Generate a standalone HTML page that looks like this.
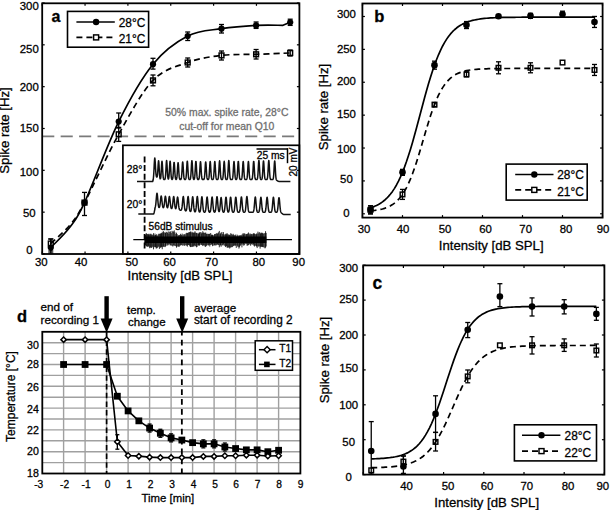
<!DOCTYPE html>
<html><head><meta charset="utf-8"><style>
html,body{margin:0;padding:0;background:#fff;width:610px;height:510px;overflow:hidden}
svg{display:block}
text{font-family:"Liberation Sans", sans-serif;stroke:currentColor;stroke-width:0.28px;paint-order:stroke}
</style></head><body>
<svg width="610" height="510" viewBox="0 0 610 510">
<rect width="610" height="510" fill="#fff"/>
<line x1="42.2" y1="136.4" x2="299.4" y2="136.4" stroke="#7a7a7a" stroke-width="1.7" stroke-linecap="butt" stroke-dasharray="12.1 6.35"/>
<text x="165.3" y="115.8" font-size="10.4" text-anchor="start" font-weight="normal" fill="#6e6e6e" color="#6e6e6e">50% max. spike rate, 28°C</text>
<text x="179.2" y="129.9" font-size="10.4" text-anchor="start" font-weight="normal" fill="#6e6e6e" color="#6e6e6e">cut-off for mean Q10</text>
<path d="M50.8,247.6 C54,244.17 64.38,234.5 70,227 C75.62,219.5 76.38,220.17 84.5,202.6 C92.62,185.03 107.28,144.67 118.7,121.6 C130.12,98.53 141.5,78.47 153,64.2 C164.5,49.93 176.28,41.92 187.7,36 C199.12,30.08 210.1,30.47 221.5,28.7 C232.9,26.93 245.85,25.97 256.1,25.4 C266.35,24.83 278.52,25.32 283,25.3 L290.2,22.3" fill="none" stroke="#000" stroke-width="1.7" stroke-linejoin="round"/>
<path d="M50.8,243.5 C54,240.42 64.38,231.82 70,225 C75.62,218.18 76.38,217.72 84.5,202.6 C92.62,187.48 107.28,154.67 118.7,134.3 C130.12,113.93 141.5,92.37 153,80.4 C164.5,68.43 176.28,66.67 187.7,62.5 C199.12,58.33 210.1,56.77 221.5,55.4 C232.9,54.03 244.65,54.7 256.1,54.3 C267.55,53.9 284.52,53.22 290.2,53" fill="none" stroke="#000" stroke-width="1.7" stroke-linejoin="round" stroke-dasharray="6 4"/>
<line x1="50.8" y1="239" x2="50.8" y2="251" stroke="#000" stroke-width="1.3" stroke-linecap="butt"/>
<line x1="48.3" y1="239" x2="53.3" y2="239" stroke="#000" stroke-width="1.3" stroke-linecap="butt"/>
<line x1="48.3" y1="251" x2="53.3" y2="251" stroke="#000" stroke-width="1.3" stroke-linecap="butt"/>
<rect x="48.4" y="241.1" width="4.8" height="4.8" fill="none" stroke="#000" stroke-width="1.45"/>
<rect x="82.1" y="200.2" width="4.8" height="4.8" fill="none" stroke="#000" stroke-width="1.45"/>
<line x1="118.7" y1="127.4" x2="118.7" y2="141.4" stroke="#000" stroke-width="1.3" stroke-linecap="butt"/>
<line x1="116.2" y1="127.4" x2="121.2" y2="127.4" stroke="#000" stroke-width="1.3" stroke-linecap="butt"/>
<line x1="116.2" y1="141.4" x2="121.2" y2="141.4" stroke="#000" stroke-width="1.3" stroke-linecap="butt"/>
<rect x="116.3" y="131.9" width="4.8" height="4.8" fill="none" stroke="#000" stroke-width="1.45"/>
<line x1="153" y1="75" x2="153" y2="85.8" stroke="#000" stroke-width="1.3" stroke-linecap="butt"/>
<line x1="150.5" y1="75" x2="155.5" y2="75" stroke="#000" stroke-width="1.3" stroke-linecap="butt"/>
<line x1="150.5" y1="85.8" x2="155.5" y2="85.8" stroke="#000" stroke-width="1.3" stroke-linecap="butt"/>
<rect x="150.6" y="78" width="4.8" height="4.8" fill="none" stroke="#000" stroke-width="1.45"/>
<line x1="187.7" y1="58" x2="187.7" y2="67" stroke="#000" stroke-width="1.3" stroke-linecap="butt"/>
<line x1="185.2" y1="58" x2="190.2" y2="58" stroke="#000" stroke-width="1.3" stroke-linecap="butt"/>
<line x1="185.2" y1="67" x2="190.2" y2="67" stroke="#000" stroke-width="1.3" stroke-linecap="butt"/>
<rect x="185.3" y="60.1" width="4.8" height="4.8" fill="none" stroke="#000" stroke-width="1.45"/>
<line x1="221.5" y1="51" x2="221.5" y2="60" stroke="#000" stroke-width="1.3" stroke-linecap="butt"/>
<line x1="219" y1="51" x2="224" y2="51" stroke="#000" stroke-width="1.3" stroke-linecap="butt"/>
<line x1="219" y1="60" x2="224" y2="60" stroke="#000" stroke-width="1.3" stroke-linecap="butt"/>
<rect x="219.1" y="53" width="4.8" height="4.8" fill="none" stroke="#000" stroke-width="1.45"/>
<line x1="256.1" y1="49.5" x2="256.1" y2="59" stroke="#000" stroke-width="1.3" stroke-linecap="butt"/>
<line x1="253.6" y1="49.5" x2="258.6" y2="49.5" stroke="#000" stroke-width="1.3" stroke-linecap="butt"/>
<line x1="253.6" y1="59" x2="258.6" y2="59" stroke="#000" stroke-width="1.3" stroke-linecap="butt"/>
<rect x="253.7" y="51.9" width="4.8" height="4.8" fill="none" stroke="#000" stroke-width="1.45"/>
<line x1="290.2" y1="50" x2="290.2" y2="56" stroke="#000" stroke-width="1.3" stroke-linecap="butt"/>
<line x1="287.7" y1="50" x2="292.7" y2="50" stroke="#000" stroke-width="1.3" stroke-linecap="butt"/>
<line x1="287.7" y1="56" x2="292.7" y2="56" stroke="#000" stroke-width="1.3" stroke-linecap="butt"/>
<rect x="287.8" y="50.6" width="4.8" height="4.8" fill="none" stroke="#000" stroke-width="1.45"/>
<line x1="50.8" y1="239" x2="50.8" y2="253" stroke="#000" stroke-width="1.3" stroke-linecap="butt"/>
<line x1="48.3" y1="239" x2="53.3" y2="239" stroke="#000" stroke-width="1.3" stroke-linecap="butt"/>
<line x1="48.3" y1="253" x2="53.3" y2="253" stroke="#000" stroke-width="1.3" stroke-linecap="butt"/>
<circle cx="50.8" cy="247.6" r="3.1" fill="#000"/>
<line x1="84.5" y1="192.4" x2="84.5" y2="215.5" stroke="#000" stroke-width="1.3" stroke-linecap="butt"/>
<line x1="82" y1="192.4" x2="87" y2="192.4" stroke="#000" stroke-width="1.3" stroke-linecap="butt"/>
<line x1="82" y1="215.5" x2="87" y2="215.5" stroke="#000" stroke-width="1.3" stroke-linecap="butt"/>
<circle cx="84.5" cy="202.6" r="3.1" fill="#000"/>
<line x1="118.7" y1="113" x2="118.7" y2="128" stroke="#000" stroke-width="1.3" stroke-linecap="butt"/>
<line x1="116.2" y1="113" x2="121.2" y2="113" stroke="#000" stroke-width="1.3" stroke-linecap="butt"/>
<line x1="116.2" y1="128" x2="121.2" y2="128" stroke="#000" stroke-width="1.3" stroke-linecap="butt"/>
<circle cx="118.7" cy="121.6" r="3.1" fill="#000"/>
<line x1="153" y1="58.3" x2="153" y2="69.1" stroke="#000" stroke-width="1.3" stroke-linecap="butt"/>
<line x1="150.5" y1="58.3" x2="155.5" y2="58.3" stroke="#000" stroke-width="1.3" stroke-linecap="butt"/>
<line x1="150.5" y1="69.1" x2="155.5" y2="69.1" stroke="#000" stroke-width="1.3" stroke-linecap="butt"/>
<circle cx="153" cy="64.2" r="3.1" fill="#000"/>
<line x1="187.7" y1="32" x2="187.7" y2="40.5" stroke="#000" stroke-width="1.3" stroke-linecap="butt"/>
<line x1="185.2" y1="32" x2="190.2" y2="32" stroke="#000" stroke-width="1.3" stroke-linecap="butt"/>
<line x1="185.2" y1="40.5" x2="190.2" y2="40.5" stroke="#000" stroke-width="1.3" stroke-linecap="butt"/>
<circle cx="187.7" cy="36" r="3.1" fill="#000"/>
<line x1="221.5" y1="24.5" x2="221.5" y2="33" stroke="#000" stroke-width="1.3" stroke-linecap="butt"/>
<line x1="219" y1="24.5" x2="224" y2="24.5" stroke="#000" stroke-width="1.3" stroke-linecap="butt"/>
<line x1="219" y1="33" x2="224" y2="33" stroke="#000" stroke-width="1.3" stroke-linecap="butt"/>
<circle cx="221.5" cy="28.7" r="3.1" fill="#000"/>
<line x1="256.1" y1="22" x2="256.1" y2="28.4" stroke="#000" stroke-width="1.3" stroke-linecap="butt"/>
<line x1="253.6" y1="22" x2="258.6" y2="22" stroke="#000" stroke-width="1.3" stroke-linecap="butt"/>
<line x1="253.6" y1="28.4" x2="258.6" y2="28.4" stroke="#000" stroke-width="1.3" stroke-linecap="butt"/>
<circle cx="256.1" cy="25.4" r="3.1" fill="#000"/>
<line x1="290.2" y1="19.2" x2="290.2" y2="25.4" stroke="#000" stroke-width="1.3" stroke-linecap="butt"/>
<line x1="287.7" y1="19.2" x2="292.7" y2="19.2" stroke="#000" stroke-width="1.3" stroke-linecap="butt"/>
<line x1="287.7" y1="25.4" x2="292.7" y2="25.4" stroke="#000" stroke-width="1.3" stroke-linecap="butt"/>
<circle cx="290.2" cy="22.3" r="3.1" fill="#000"/>
<rect x="122.9" y="145.3" width="176.5" height="108.7" fill="#fff" stroke="#000" stroke-width="1.7"/>
<line x1="144.6" y1="156.5" x2="144.6" y2="249.5" stroke="#000" stroke-width="1.8" stroke-linecap="butt" stroke-dasharray="6 2.6"/>
<text x="126.8" y="172.8" font-size="10.3" text-anchor="start" font-weight="normal" fill="#000" color="#000">28°</text>
<text x="126.8" y="208.1" font-size="10.3" text-anchor="start" font-weight="normal" fill="#000" color="#000">20°</text>
<text x="148.6" y="230" font-size="10.2" text-anchor="start" font-weight="normal" fill="#000" color="#000">56dB stimulus</text>
<line x1="256.5" y1="149" x2="288" y2="149" stroke="#000" stroke-width="1.5" stroke-linecap="butt"/>
<line x1="287.5" y1="148.3" x2="287.5" y2="163.2" stroke="#000" stroke-width="1.5" stroke-linecap="butt"/>
<text x="256.7" y="158.6" font-size="10.3" text-anchor="start" font-weight="normal" fill="#000" color="#000">25 ms</text>
<text x="297.2" y="176.5" font-size="10.0" text-anchor="start" font-weight="normal" fill="#000" color="#000" transform="rotate(-90 297.2 176.5)">20 mV</text>
<polyline points="137,181.6 137.2,181.6 137.4,181.6 137.6,181.6 137.8,181.6 138,181.6 138.2,181.6 138.4,181.6 138.6,181.6 138.8,181.6 139,181.6 139.2,181.6 139.4,181.6 139.6,181.6 139.8,181.6 140,181.6 140.2,181.6 140.4,181.6 140.6,181.6 140.8,181.6 141,181.6 141.2,181.6 141.4,181.6 141.6,181.6 141.8,181.6 142,181.6 142.2,181.6 142.4,181.6 142.6,181.6 142.8,181.6 143,181.6 143.2,181.6 143.4,181.6 143.6,181.6 143.8,181.6 144,181.6 144.2,181.6 144.4,181.6 144.6,181.6 144.8,181.6 145,181.6 145.2,181.6 145.4,181.6 145.6,181.6 145.8,181.6 146,181.6 146.2,181.6 146.4,181.6 146.6,181.6 146.8,181.6 147,181.6 147.2,181.6 147.4,181.6 147.6,181.6 147.8,181.6 148,181.6 148.2,181.6 148.4,181.6 148.6,181.6 148.8,181.6 149,181.6 149.2,181.6 149.4,181.6 149.6,181.6 149.8,181.6 150,181.6 150.2,181.6 150.4,181.6 150.6,181.6 150.8,181.6 151,181.6 151.2,181.6 151.4,181.6 151.6,181.6 151.8,181.6 152,181.6 152.2,181.6 152.4,181.59 152.6,181.54 152.8,181.19 153,180.52 153.2,179.5 153.4,178.02 153.6,175.92 153.8,173.06 154,169.44 154.2,165.04 154.4,161.55 154.6,158.94 154.8,158 155,159.02 155.2,161.71 155.4,165.3 155.6,168.94 155.8,171.99 156,174.2 156.2,175.62 156.4,176.45 156.6,176.9 156.8,177.09 157,177.01 157.2,176.54 157.4,175.46 157.6,173.58 157.8,170.82 158,167.45 158.2,164.1 158.4,161.63 158.6,160.8 158.8,161.92 159,164.69 159.2,168.32 159.4,171.97 159.6,174.97 159.8,177.08 160,178.32 160.2,178.87 160.4,178.86 160.6,178.31 160.8,177.07 161,174.98 161.2,172.01 161.4,168.42 161.6,164.86 161.8,162.19 162,161.2 162.2,162.19 162.4,164.86 162.6,168.42 162.8,172.01 163,174.99 163.2,177.09 163.4,178.38 163.6,179.07 163.8,179.39 164,179.53 164.2,179.57 164.4,179.57 164.6,179.52 164.8,179.38 165,179.05 165.2,178.33 165.4,177 165.6,174.81 165.8,171.72 166,168 166.2,164.29 166.4,161.53 166.6,160.5 166.8,161.53 167,164.29 167.2,168 167.4,171.72 167.6,174.81 167.8,176.98 168,178.29 168.2,178.92 168.4,179.04 168.6,178.7 168.8,177.78 169,176.11 169.2,173.54 169.4,170.16 169.6,166.44 169.8,163.18 170,161.26 170.2,161.26 170.4,163.18 170.6,166.44 170.8,170.16 171,173.54 171.2,176.12 171.4,177.81 171.6,178.77 171.8,179.25 172,179.44 172.2,179.44 172.4,179.27 172.6,178.82 172.8,177.92 173,176.34 173.2,173.93 173.4,170.77 173.6,167.29 173.8,164.24 174,162.44 174.2,162.44 174.4,164.24 174.6,167.29 174.8,170.77 175,173.93 175.2,176.34 175.4,177.92 175.6,178.82 175.8,179.27 176,179.44 176.2,179.45 176.4,179.28 176.6,178.84 176.8,177.95 177,176.4 177.2,174.03 177.4,170.92 177.6,167.5 177.8,164.5 178,162.74 178.2,162.74 178.4,164.5 178.6,167.5 178.8,170.92 179,174.03 179.2,176.4 179.4,177.95 179.6,178.84 179.8,179.29 180,179.48 180.2,179.56 180.4,179.58 180.6,179.56 180.8,179.48 181,179.27 181.2,178.81 181.4,177.88 181.6,176.27 181.8,173.8 182,170.57 182.2,167.01 182.4,163.88 182.6,162.04 182.8,162.04 183,163.88 183.2,167.01 183.4,170.57 183.6,173.8 183.8,176.27 184,177.88 184.2,178.81 184.4,179.27 184.6,179.48 184.8,179.56 185,179.58 185.2,179.56 185.4,179.47 185.6,179.26 185.8,178.77 186,177.81 186.2,176.12 186.4,173.54 186.6,170.16 186.8,166.44 187,163.18 187.2,161.26 187.4,161.26 187.6,163.18 187.8,166.44 188,170.16 188.2,173.54 188.4,176.12 188.6,177.81 188.8,178.77 189,179.26 189.2,179.47 189.4,179.56 189.6,179.58 189.8,179.55 190,179.47 190.2,179.25 190.4,178.76 190.6,177.77 190.8,176.04 191,173.41 191.2,169.96 191.4,166.16 191.6,162.83 191.8,160.86 192,160.86 192.2,162.83 192.4,166.16 192.6,169.96 192.8,173.41 193,176.04 193.2,177.77 193.4,178.75 193.6,179.24 193.8,179.43 194,179.43 194.2,179.25 194.4,178.78 194.6,177.83 194.8,176.15 195,173.6 195.2,170.26 195.4,166.58 195.6,163.36 195.8,161.45 196,161.45 196.2,163.36 196.4,166.58 196.6,170.26 196.8,173.6 197,176.15 197.2,177.83 197.4,178.78 197.6,179.26 197.8,179.47 198,179.56 198.2,179.58 198.4,179.56 198.6,179.48 198.8,179.27 199,178.8 199.2,177.85 199.4,176.21 199.6,173.7 199.8,170.41 200,166.79 200.2,163.62 200.4,161.75 200.6,161.75 200.8,163.62 201,166.79 201.2,170.41 201.4,173.7 201.6,176.21 201.8,177.85 202,178.8 202.2,179.27 202.4,179.48 202.6,179.56 202.8,179.59 203,179.6 203.2,179.6 203.4,179.59 203.6,179.56 203.8,179.48 204,179.27 204.2,178.81 204.4,177.88 204.6,176.27 204.8,173.8 205,170.57 205.2,167.01 205.4,163.88 205.6,162.04 205.8,162.04 206,163.88 206.2,167.01 206.4,170.57 206.6,173.8 206.8,176.27 207,177.88 207.2,178.81 207.4,179.27 207.6,179.48 207.8,179.55 208,179.57 208.2,179.53 208.4,179.4 208.6,179.08 208.8,178.4 209,177.13 209.2,175.06 209.4,172.14 209.6,168.6 209.8,165.1 210,162.47 210.2,161.5 210.4,162.47 210.6,165.1 210.8,168.6 211,172.14 211.2,175.06 211.4,177.13 211.6,178.4 211.8,179.08 212,179.4 212.2,179.53 212.4,179.57 212.6,179.57 212.8,179.53 213,179.4 213.2,179.08 213.4,178.4 213.6,177.13 213.8,175.06 214,172.14 214.2,168.6 214.4,165.1 214.6,162.47 214.8,161.5 215,162.47 215.2,165.1 215.4,168.6 215.6,172.14 215.8,175.06 216,177.13 216.2,178.4 216.4,179.08 216.6,179.4 216.8,179.53 217,179.58 217.2,179.59 217.4,179.58 217.6,179.53 217.8,179.39 218,179.06 218.2,178.35 218.4,177.04 218.6,174.89 218.8,171.85 219,168.18 219.2,164.53 219.4,161.81 219.6,160.8 219.8,161.81 220,164.53 220.2,168.18 220.4,171.85 220.6,174.89 220.8,177.04 221,178.35 221.2,179.06 221.4,179.39 221.6,179.52 221.8,179.57 222,179.57 222.2,179.53 222.4,179.39 222.6,179.07 222.8,178.39 223,177.11 223.2,175.01 223.4,172.05 223.6,168.48 223.8,164.94 224,162.29 224.2,161.3 224.4,162.29 224.6,164.94 224.8,168.48 225,172.05 225.2,175.01 225.4,177.11 225.6,178.39 225.8,179.07 226,179.39 226.2,179.53 226.4,179.57 226.6,179.57 226.8,179.52 227,179.38 227.2,179.05 227.4,178.33 227.6,177 227.8,174.81 228,171.72 228.2,168 228.4,164.29 228.6,161.53 228.8,160.5 229,161.53 229.2,164.29 229.4,168 229.6,171.72 229.8,174.81 230,177 230.2,178.33 230.4,179.05 230.6,179.38 230.8,179.52 231,179.58 231.2,179.59 231.4,179.6 231.6,179.59 231.8,179.58 232,179.53 232.2,179.4 232.4,179.08 232.6,178.4 232.8,177.13 233,175.06 233.2,172.14 233.4,168.6 233.6,165.1 233.8,162.47 234,161.5 234.2,162.47 234.4,165.1 234.6,168.6 234.8,172.14 235,175.06 235.2,177.13 235.4,178.4 235.6,179.08 235.8,179.39 236,179.52 236.2,179.54 236.4,179.47 236.6,179.26 236.8,178.78 237,177.83 237.2,176.15 237.4,173.6 237.6,170.26 237.8,166.58 238,163.36 238.2,161.45 238.4,161.45 238.6,163.36 238.8,166.58 239,170.26 239.2,173.6 239.4,176.15 239.6,177.83 239.8,178.78 240,179.26 240.2,179.48 240.4,179.56 240.6,179.59 240.8,179.59 241,179.58 241.2,179.53 241.4,179.4 241.6,179.08 241.8,178.4 242,177.13 242.2,175.06 242.4,172.14 242.6,168.6 242.8,165.1 243,162.47 243.2,161.5 243.4,162.47 243.6,165.1 243.8,168.6 244,172.14 244.2,175.06 244.4,177.13 244.6,178.4 244.8,179.08 245,179.4 245.2,179.53 245.4,179.58 245.6,179.59 245.8,179.6 246,179.59 246.2,179.58 246.4,179.53 246.6,179.4 246.8,179.08 247,178.4 247.2,177.13 247.4,175.06 247.6,172.14 247.8,168.6 248,165.1 248.2,162.47 248.4,161.5 248.6,162.47 248.8,165.1 249,168.6 249.2,172.14 249.4,175.06 249.6,177.13 249.8,178.4 250,179.08 250.2,179.4 250.4,179.53 250.6,179.58 250.8,179.59 251,179.6 251.2,179.6 251.4,179.59 251.6,179.56 251.8,179.48 252,179.26 252.2,178.78 252.4,177.83 252.6,176.15 252.8,173.6 253,170.26 253.2,166.58 253.4,163.36 253.6,161.45 253.8,161.45 254,163.36 254.2,166.58 254.4,170.26 254.6,173.6 254.8,176.15 255,177.83 255.2,178.78 255.4,179.26 255.6,179.48 255.8,179.56 256,179.59 256.2,179.6 256.4,179.6 256.6,179.59 256.8,179.56 257,179.47 257.2,179.25 257.4,178.74 257.6,177.74 257.8,175.98 258,173.31 258.2,169.8 258.4,165.95 258.6,162.56 258.8,160.57 259,160.57 259.2,162.56 259.4,165.95 259.6,169.8 259.8,173.31 260,175.98 260.2,177.74 260.4,178.74 260.6,179.25 260.8,179.47 261,179.55 261.2,179.57 261.4,179.55 261.6,179.47 261.8,179.26 262,178.76 262.2,177.79 262.4,176.08 262.6,173.47 262.8,170.06 263,166.3 263.2,163 263.4,161.06 263.6,161.06 263.8,163 264,166.3 264.2,170.06 264.4,173.47 264.6,176.08 264.8,177.79 265,178.77 265.2,179.26 265.4,179.47 265.6,179.56 265.8,179.59 266,179.6 266.2,179.6 266.4,179.59 266.6,179.58 266.8,179.52 267,179.38 267.2,179.05 267.4,178.33 267.6,177 267.8,174.81 268,171.72 268.2,168 268.4,164.29 268.6,161.53 268.8,160.5 269,161.53 269.2,164.29 269.4,168 269.6,171.72 269.8,174.81 270,177 270.2,178.33 270.4,179.05 270.6,179.38 270.8,179.52 271,179.58 271.2,179.59 271.4,179.6 271.6,179.6 271.8,179.6 272,179.6 272.2,179.6 272.4,179.59 272.6,179.56 272.8,179.47 273,179.26 273.2,178.77 273.4,177.79 273.6,176.08 273.8,173.47 274,170.06 274.2,166.3 274.4,163 274.6,161.06 274.8,161.06 275,163 275.2,166.31 275.4,170.11 275.6,173.58 275.8,176.26 276,178.07 276.2,179.15 276.4,179.76 276.6,180.11 276.8,180.32 277,180.49 277.2,180.63 277.4,180.77 277.6,180.89 277.8,181.01 278,181.12 278.2,181.21 278.4,181.29 278.6,181.35 278.8,181.39 279,181.4 279.2,181.4 279.4,181.4 279.6,181.4 279.8,181.4 280,181.4 280.2,181.4 280.4,181.4 280.6,181.4 280.8,181.4 281,181.4 281.2,181.4 281.4,181.4 281.6,181.4 281.8,181.4 282,181.4 282.2,181.4 282.4,181.4 282.6,181.4 282.8,181.4 283,181.4 283.2,181.4 283.4,181.4 283.6,181.4 283.8,181.4 284,181.4 284.2,181.4 284.4,181.4 284.6,181.4 284.8,181.4 285,181.4 285.2,181.4 285.4,181.4 285.6,181.4 285.8,181.4 286,181.4 286.2,181.4 286.4,181.4 286.6,181.4 286.8,181.4 287,181.4 287.2,181.4 287.4,181.4 287.6,181.4 287.8,181.4 288,181.4 288.2,181.4 288.4,181.4 288.6,181.4 288.8,181.4 289,181.4 289.2,181.4 289.4,181.4 289.6,181.4 289.8,181.4 290,181.4 290.2,181.4 290.4,181.4" fill="none" stroke="#111" stroke-width="1.5" stroke-linejoin="round"/>
<polyline points="138.3,214 138.5,214 138.7,214 138.9,214 139.1,214 139.3,214 139.5,214 139.7,214 139.9,214 140.1,214 140.3,214 140.5,214 140.7,214 140.9,214 141.1,214 141.3,214 141.5,214 141.7,214 141.9,214 142.1,214 142.3,214 142.5,214 142.7,214 142.9,214 143.1,214 143.3,214 143.5,214 143.7,214 143.9,214 144.1,214 144.3,214 144.5,214 144.7,214 144.9,214 145.1,214 145.3,214 145.5,214 145.7,214 145.9,214 146.1,214 146.3,214 146.5,214 146.7,214 146.9,214 147.1,214 147.3,214 147.5,214 147.7,214 147.9,214 148.1,214 148.3,214 148.5,214 148.7,214 148.9,214 149.1,214 149.3,214 149.5,214 149.7,214 149.9,214 150.1,214 150.3,214 150.5,214 150.7,214 150.9,214 151.1,214 151.3,214 151.5,214 151.7,214 151.9,214 152.1,214 152.3,214 152.5,214 152.7,214 152.9,214 153.1,214 153.3,214 153.5,214 153.7,213.83 153.9,213.37 154.1,212.7 154.3,211.87 154.5,210.95 154.7,209.99 154.9,209.02 155.1,207.44 155.3,206.92 155.5,206.08 155.7,204.8 155.9,203.06 156.1,200.9 156.3,198.51 156.5,196.2 156.7,194.36 156.9,193.33 157.1,193.33 157.3,194.36 157.5,196.2 157.7,198.51 157.9,200.9 158.1,203.06 158.3,204.8 158.5,206.06 158.7,206.88 158.9,207.34 159.1,207.51 159.3,207.42 159.5,207.08 159.7,206.42 159.9,205.4 160.1,203.99 160.3,202.24 160.5,200.3 160.7,198.43 160.9,196.94 161.1,196.11 161.3,196.11 161.5,196.95 161.7,198.45 161.9,200.33 162.1,202.27 162.3,204.03 162.5,205.45 162.7,206.48 162.9,207.15 163.1,207.52 163.3,207.64 163.5,207.54 163.7,207.19 163.9,206.54 164.1,205.53 164.3,204.13 164.5,202.39 164.7,200.46 164.9,198.6 165.1,197.12 165.3,196.3 165.5,196.32 165.7,197.16 165.9,198.68 166.1,200.57 166.3,202.52 166.5,204.29 166.7,205.71 166.9,206.74 167.1,207.39 167.3,207.7 167.5,207.72 167.7,207.44 167.9,206.82 168.1,205.83 168.3,204.43 168.5,202.69 168.7,200.76 168.9,198.9 169.1,197.41 169.3,196.6 169.5,196.62 169.7,197.48 169.9,199.01 170.1,200.93 170.3,202.9 170.5,204.69 170.7,206.14 170.9,207.2 171.1,207.9 171.3,208.31 171.5,208.48 171.7,208.45 171.9,208.2 172.1,207.68 172.3,206.82 172.5,205.56 172.7,203.91 172.9,201.96 173.1,199.94 173.3,198.15 173.5,196.92 173.7,196.5 173.9,196.98 174.1,198.27 174.3,200.12 174.5,202.19 174.7,204.19 174.9,205.9 175.1,207.19 175.3,208.06 175.5,208.53 175.7,208.65 175.9,208.41 176.1,207.8 176.3,206.78 176.5,205.32 176.7,203.5 176.9,201.47 177.1,199.51 177.3,197.95 177.5,197.1 177.7,197.13 177.9,198.05 178.1,199.67 178.3,201.69 178.5,203.79 178.7,205.68 178.9,207.22 179.1,208.35 179.3,209.11 179.5,209.59 179.7,209.87 179.9,210.03 180.1,210.12 180.3,210.18 180.5,210.21 180.7,210.23 180.9,210.22 181.1,210.15 181.3,209.98 181.5,209.64 181.7,209.03 181.9,208.06 182.1,206.65 182.3,204.8 182.5,202.62 182.7,200.35 182.9,198.35 183.1,196.97 183.3,196.5 183.5,197.04 183.7,198.48 183.9,200.54 184.1,202.87 184.3,205.11 184.5,207.02 184.7,208.5 184.9,209.53 185.1,210.2 185.3,210.6 185.5,210.81 185.7,210.89 185.9,210.86 186.1,210.7 186.3,210.34 186.5,209.7 186.7,208.67 186.9,207.19 187.1,205.24 187.3,202.95 187.5,200.56 187.7,198.46 187.9,197 188.1,196.5 188.3,197.06 188.5,198.56 188.7,200.73 188.9,203.16 189.1,205.51 189.3,207.51 189.5,209.05 189.7,210.13 189.9,210.82 190.1,211.21 190.3,211.4 190.5,211.42 190.7,211.28 190.9,210.92 191.1,210.27 191.3,209.22 191.5,207.7 191.7,205.72 191.9,203.38 192.1,200.95 192.3,198.8 192.5,197.32 192.7,196.8 192.9,197.36 193.1,198.88 193.3,201.07 193.5,203.53 193.7,205.91 193.9,207.93 194.1,209.49 194.3,210.58 194.5,211.27 194.7,211.66 194.9,211.84 195.1,211.85 195.3,211.68 195.5,211.3 195.7,210.61 195.9,209.51 196.1,207.92 196.3,205.84 196.5,203.4 196.7,200.86 196.9,198.61 197.1,197.05 197.3,196.5 197.5,197.07 197.7,198.64 197.9,200.91 198.1,203.46 198.3,205.92 198.5,208.02 198.7,209.62 198.9,210.74 199.1,211.45 199.3,211.84 199.5,212.02 199.7,212.02 199.9,211.85 200.1,211.47 200.3,210.78 200.5,209.68 200.7,208.1 200.9,206.04 201.1,203.63 201.3,201.12 201.5,198.89 201.7,197.35 201.9,196.8 202.1,197.35 202.3,198.89 202.5,201.12 202.7,203.63 202.9,206.04 203.1,208.1 203.3,209.68 203.5,210.78 203.7,211.48 203.9,211.89 204.1,212.1 204.3,212.2 204.5,212.23 204.7,212.2 204.9,212.11 205.1,211.89 205.3,211.49 205.5,210.8 205.7,209.71 205.9,208.16 206.1,206.12 206.3,203.74 206.5,201.26 206.7,199.07 206.9,197.55 207.1,197 207.3,197.55 207.5,199.07 207.7,201.26 207.9,203.74 208.1,206.12 208.3,208.16 208.5,209.71 208.7,210.8 208.9,211.49 209.1,211.89 209.3,212.1 209.5,212.18 209.7,212.18 209.9,212.1 210.1,211.89 210.3,211.49 210.5,210.8 210.7,209.71 210.9,208.16 211.1,206.12 211.3,203.74 211.5,201.26 211.7,199.07 211.9,197.55 212.1,197 212.3,197.55 212.5,199.07 212.7,201.26 212.9,203.74 213.1,206.12 213.3,208.16 213.5,209.71 213.7,210.8 213.9,211.49 214.1,211.89 214.3,212.09 214.5,212.16 214.7,212.14 214.9,212 215.1,211.7 215.3,211.15 215.5,210.25 215.7,208.89 215.9,207.03 216.1,204.72 216.3,202.17 216.5,199.71 216.7,197.74 216.9,196.64 217.1,196.64 217.3,197.74 217.5,199.71 217.7,202.17 217.9,204.72 218.1,207.02 218.3,208.88 218.5,210.22 218.7,211.07 218.9,211.52 219.1,211.62 219.3,211.39 219.5,210.79 219.7,209.78 219.9,208.28 220.1,206.32 220.3,204.02 220.5,201.62 220.7,199.5 220.9,198.03 221.1,197.5 221.3,198.03 221.5,199.5 221.7,201.62 221.9,204.02 222.1,206.32 222.3,208.29 222.5,209.8 222.7,210.85 222.9,211.51 223.1,211.9 223.3,212.1 223.5,212.17 223.7,212.14 223.9,212.01 224.1,211.72 224.3,211.19 224.5,210.31 224.7,209 224.9,207.19 225.1,204.96 225.3,202.49 225.5,200.1 225.7,198.2 225.9,197.14 226.1,197.14 226.3,198.2 226.5,200.1 226.7,202.49 226.9,204.96 227.1,207.19 227.3,209 227.5,210.31 227.7,211.18 227.9,211.7 228.1,211.97 228.3,212.05 228.5,211.97 228.7,211.7 228.9,211.18 229.1,210.31 229.3,209 229.5,207.19 229.7,204.96 229.9,202.49 230.1,200.1 230.3,198.2 230.5,197.14 230.7,197.14 230.9,198.2 231.1,200.1 231.3,202.49 231.5,204.96 231.7,207.19 231.9,209 232.1,210.31 232.3,211.19 232.5,211.72 232.7,212.02 232.9,212.17 233.1,212.23 233.3,212.23 233.5,212.17 233.7,212.02 233.9,211.72 234.1,211.19 234.3,210.31 234.5,209 234.7,207.19 234.9,204.96 235.1,202.49 235.3,200.1 235.5,198.2 235.7,197.14 235.9,197.14 236.1,198.2 236.3,200.1 236.5,202.49 236.7,204.96 236.9,207.19 237.1,209 237.3,210.31 237.5,211.19 237.7,211.72 237.9,212.02 238.1,212.17 238.3,212.24 238.5,212.27 238.7,212.27 238.9,212.24 239.1,212.17 239.3,212.02 239.5,211.71 239.7,211.17 239.9,210.29 240.1,208.95 240.3,207.13 240.5,204.87 240.7,202.36 240.9,199.94 241.1,198.02 241.3,196.94 241.5,196.94 241.7,198.02 241.9,199.94 242.1,202.36 242.3,204.87 242.5,207.13 242.7,208.95 242.9,210.29 243.1,211.17 243.3,211.71 243.5,212.02 243.7,212.17 243.9,212.24 244.1,212.27 244.3,212.26 244.5,212.21 244.7,212.1 244.9,211.88 245.1,211.46 245.3,210.75 245.5,209.63 245.7,208.02 245.9,205.92 246.1,203.46 246.3,200.9 246.5,198.63 246.7,197.06 246.9,196.5 247.1,197.06 247.3,198.63 247.5,200.9 247.7,203.46 247.9,205.92 248.1,208.02 248.3,209.63 248.5,210.75 248.7,211.46 248.9,211.88 249.1,212.1 249.3,212.21 249.5,212.27 249.7,212.29 249.9,212.3 250.1,212.3 250.3,212.3 250.5,212.3 250.7,212.3 250.9,212.3 251.1,212.3 251.3,212.3 251.5,212.3 251.7,212.3 251.9,212.3 252.1,212.3 252.3,212.3 252.5,212.29 252.7,212.27 252.9,212.22 253.1,212.11 253.3,211.89 253.5,211.49 253.7,210.8 253.9,209.71 254.1,208.16 254.3,206.12 254.5,203.74 254.7,201.26 254.9,199.07 255.1,197.55 255.3,197 255.5,197.55 255.7,199.07 255.9,201.26 256.1,203.74 256.3,206.12 256.5,208.16 256.7,209.71 256.9,210.8 257.1,211.49 257.3,211.89 257.5,212.11 257.7,212.22 257.9,212.26 258.1,212.28 258.3,212.26 258.5,212.22 258.7,212.11 258.9,211.9 259.1,211.5 259.3,210.82 259.5,209.75 259.7,208.21 259.9,206.2 260.1,203.85 260.3,201.41 260.5,199.24 260.7,197.74 260.9,197.2 261.1,197.74 261.3,199.24 261.5,201.41 261.7,203.85 261.9,206.2 262.1,208.21 262.3,209.75 262.5,210.82 262.7,211.5 262.9,211.9 263.1,212.11 263.3,212.22 263.5,212.27 263.7,212.29 263.9,212.29 264.1,212.29 264.3,212.29 264.5,212.27 264.7,212.22 264.9,212.11 265.1,211.9 265.3,211.5 265.5,210.82 265.7,209.75 265.9,208.21 266.1,206.2 266.3,203.85 266.5,201.41 266.7,199.24 266.9,197.74 267.1,197.2 267.3,197.74 267.5,199.24 267.7,201.41 267.9,203.85 268.1,206.2 268.3,208.21 268.5,209.75 268.7,210.82 268.9,211.5 269.1,211.9 269.3,212.11 269.5,212.22 269.7,212.27 269.9,212.29 270.1,212.29 270.3,212.3 270.5,212.29 270.7,212.28 270.9,212.25 271.1,212.18 271.3,212.02 271.5,211.73 271.7,211.2 271.9,210.34 272.1,209.04 272.3,207.26 272.5,205.06 272.7,202.62 272.9,200.26 273.1,198.38 273.3,197.34 273.5,197.34 273.7,198.38 273.9,200.26 274.1,202.62 274.3,205.06 274.5,207.26 274.7,209.04 274.9,210.34 275.1,211.2 275.3,211.73 275.5,212.02 275.7,212.17 275.9,212.25 276.1,212.27 276.3,212.27 276.5,212.25 276.7,212.18 276.9,212.03 277.1,211.74 277.3,211.22 277.5,210.38 277.7,209.1 277.9,207.36 278.1,205.2 278.3,202.81 278.5,200.5 278.7,198.66 278.9,197.63 279.1,197.63 279.3,198.66 279.5,200.5 279.7,202.81 279.9,205.2 280.1,207.37 280.3,209.14 280.5,210.47 280.7,211.4 280.9,212.02 281.1,212.44 281.3,212.72 281.5,212.95 281.7,213.13 281.9,213.31 282.1,213.48 282.3,213.64 282.5,213.8 282.7,213.95 282.9,214.09 283.1,214.22 283.3,214.32 283.5,214.41 283.7,214.46 283.9,214.5 284.1,214.5 284.3,214.5 284.5,214.5 284.7,214.5 284.9,214.5 285.1,214.5 285.3,214.5 285.5,214.5 285.7,214.5 285.9,214.5 286.1,214.5 286.3,214.5 286.5,214.5 286.7,214.5 286.9,214.5 287.1,214.5 287.3,214.5 287.5,214.5 287.7,214.5 287.9,214.5 288.1,214.5 288.3,214.5 288.5,214.5 288.7,214.5 288.9,214.5 289.1,214.5 289.3,214.5 289.5,214.5 289.7,214.5 289.9,214.5 290.1,214.5 290.3,214.5 290.5,214.5 290.7,214.5" fill="none" stroke="#111" stroke-width="1.5" stroke-linejoin="round"/>
<line x1="133.3" y1="239.7" x2="292" y2="239.7" stroke="#000" stroke-width="1.3" stroke-linecap="butt"/>
<rect x="144.8" y="236.5" width="121.5" height="6.5" fill="#000"/>
<path d="M144.8,234.88 V245.3 M145.49,234.94 V245.1 M146.14,233.21 V246.12 M146.64,233.56 V246.34 M147.27,234.2 V246.55 M147.79,234.18 V246.77 M148.5,234.39 V245.88 M148.97,233.7 V246.91 M149.69,234.5 V248.25 M150.25,234.25 V247.6 M150.83,233.65 V247.22 M151.35,234.48 V247.95 M152.05,234.6 V247.4 M152.76,234.84 V246.7 M153.51,233.2 V249.33 M154.33,235.29 V246.9 M154.99,233.52 V247.38 M155.5,234.96 V247.03 M156.15,235.27 V248.38 M156.73,234.13 V248.46 M157.24,235.91 V247.96 M157.96,235.12 V247.21 M158.66,233.79 V246.63 M159.42,233.88 V248.9 M160.23,233.45 V247.64 M160.71,233.85 V247.55 M161.18,233.25 V247.32 M161.64,233.11 V246.88 M162.25,231.75 V249.22 M162.91,233.18 V247.03 M163.48,231.17 V246.55 M164.16,232.14 V246.89 M165.05,232.93 V247.13 M165.58,232.82 V246.43 M166.13,231.8 V245.72 M166.95,232 V243.88 M167.41,232.9 V245.52 M168.29,231.38 V244.43 M168.91,233.8 V245.28 M169.64,231.68 V244.22 M170.45,231.38 V245.42 M171.23,233.07 V245.39 M172.04,230.83 V245.89 M172.82,231.61 V246.51 M173.63,231.4 V245.51 M174.24,230.34 V245.49 M174.98,232.36 V245.94 M175.8,234.09 V246.19 M176.52,232.7 V247.7 M177.13,234.03 V246.75 M177.99,235.38 V246.12 M178.64,235.37 V246.78 M179.3,235.06 V246.68 M180,234.85 V245.58 M180.58,233.82 V245.39 M181.44,234.87 V244.97 M182.2,233.6 V245.47 M182.96,235.26 V245.68 M183.84,234.34 V244.86 M184.32,234.26 V245.92 M185.17,234.42 V245.41 M186.02,233.34 V245.14 M186.69,232.84 V245.75 M187.37,232.9 V246.64 M187.83,233.16 V244.97 M188.56,232.39 V245.03 M189.45,232.16 V245.56 M190.02,231.92 V246.54 M190.59,231.46 V247.1 M191.08,232.62 V246.83 M191.95,231.72 V247.06 M192.43,232.5 V246.73 M193.3,232.47 V245.95 M193.8,232.9 V246.86 M194.38,232.47 V245.54 M194.99,231.22 V245.75 M195.69,232.52 V246.31 M196.51,232.97 V247.29 M197.18,232.93 V246.77 M197.95,234.2 V244.95 M198.46,233.64 V245.66 M198.95,232.69 V244.94 M199.51,232.61 V245.69 M200.08,232.21 V244.61 M200.96,232.09 V244.81 M201.62,233.4 V244.8 M202.19,232.85 V245.13 M202.78,231.21 V246.06 M203.53,232.47 V245.35 M204.42,232.8 V245.63 M205.24,232.8 V246.93 M205.76,232.57 V246.55 M206.58,233.81 V245.85 M207.13,233.9 V244.76 M207.96,233.73 V245.29 M208.63,233.98 V245.43 M209.32,234.03 V244.81 M209.8,233.68 V246.51 M210.69,233.01 V245.01 M211.49,234.65 V244.6 M212.05,235.06 V243.96 M212.53,234.72 V246.17 M213.11,235.32 V244.69 M213.96,235.24 V245.97 M214.62,234.04 V244.97 M215.16,234.02 V244.88 M215.85,233.73 V245.69 M216.7,233.38 V244.92 M217.16,232.93 V244.45 M217.67,234.02 V244.59 M218.46,232.37 V245.09 M219.32,230.89 V247.3 M220.03,234.33 V245.53 M220.53,233.41 V245.17 M221.1,232.57 V246.78 M221.94,231.99 V245.51 M222.64,234.13 V245.2 M223.43,232.11 V244.44 M223.94,234.43 V245.48 M224.83,234.57 V245.82 M225.45,234.24 V247.06 M226.13,233.46 V245.84 M226.64,234.32 V246.42 M227.2,233.23 V247.86 M227.83,234.42 V247.4 M228.31,234.45 V247.63 M229.05,235.03 V247.26 M229.68,234.9 V248.52 M230.14,234.44 V247.46 M230.85,233.09 V247.61 M231.68,234.07 V247.04 M232.37,234.77 V247.11 M233.16,233.8 V246.19 M233.72,234.84 V245.91 M234.28,235.22 V245.06 M234.97,235.72 V246.01 M235.42,234.62 V245.47 M236.27,236.15 V247.92 M237.04,234.55 V245.24 M237.68,235.5 V246.32 M238.14,235.9 V247.07 M238.95,235.39 V248.61 M239.54,235.71 V247.32 M240.12,235.19 V246.03 M240.76,235.44 V245.14 M241.31,235.47 V244.34 M241.93,234.59 V247.39 M242.8,233.48 V244.59 M243.27,234.71 V244.2 M243.79,233.36 V245.71 M244.3,233.4 V245.1 M245.12,233.76 V243.74 M245.98,234.43 V244.18 M246.62,234.04 V243.57 M247.1,233.94 V245.85 M247.7,233.52 V245.32 M248.47,232.48 V245.16 M249.33,234.33 V244.34 M250,233.29 V244.43 M250.64,234.26 V245.74 M251.42,233.93 V244.11 M252.02,234.61 V244.51 M252.81,233.89 V244.64 M253.4,233.36 V244.29 M253.89,233.44 V245.71 M254.45,233.51 V246.53 M255.28,233.98 V245.46 M255.98,234.78 V246.06 M256.54,233.59 V246.58 M257.17,233.62 V248.08 M257.91,231.62 V246.4 M258.74,233.35 V246.54 M259.28,232.04 V246.35 M260.12,232.91 V248.63 M260.62,233.73 V246.66 M261.13,232.54 V246.92 M261.67,233.08 V246.66 M262.26,232.75 V246.82 M262.76,233.32 V247.07 M263.28,233.61 V247.14 M264.16,233.34 V247.59 M265,233 V248.37 M265.54,231.19 V247.64 M266.17,232.9 V246.49" stroke="#000" stroke-width="0.8" fill="none"/>
<rect x="42.2" y="3.3" width="257.2" height="250.7" fill="none" stroke="#000" stroke-width="1.8"/>
<line x1="42.2" y1="254" x2="42.2" y2="251.5" stroke="#000" stroke-width="1.2" stroke-linecap="butt"/>
<line x1="42.2" y1="3.3" x2="42.2" y2="5.8" stroke="#000" stroke-width="1.2" stroke-linecap="butt"/>
<line x1="85.05" y1="254" x2="85.05" y2="251.5" stroke="#000" stroke-width="1.2" stroke-linecap="butt"/>
<line x1="85.05" y1="3.3" x2="85.05" y2="5.8" stroke="#000" stroke-width="1.2" stroke-linecap="butt"/>
<line x1="127.9" y1="254" x2="127.9" y2="251.5" stroke="#000" stroke-width="1.2" stroke-linecap="butt"/>
<line x1="127.9" y1="3.3" x2="127.9" y2="5.8" stroke="#000" stroke-width="1.2" stroke-linecap="butt"/>
<line x1="170.75" y1="254" x2="170.75" y2="251.5" stroke="#000" stroke-width="1.2" stroke-linecap="butt"/>
<line x1="170.75" y1="3.3" x2="170.75" y2="5.8" stroke="#000" stroke-width="1.2" stroke-linecap="butt"/>
<line x1="213.6" y1="254" x2="213.6" y2="251.5" stroke="#000" stroke-width="1.2" stroke-linecap="butt"/>
<line x1="213.6" y1="3.3" x2="213.6" y2="5.8" stroke="#000" stroke-width="1.2" stroke-linecap="butt"/>
<line x1="256.45" y1="254" x2="256.45" y2="251.5" stroke="#000" stroke-width="1.2" stroke-linecap="butt"/>
<line x1="256.45" y1="3.3" x2="256.45" y2="5.8" stroke="#000" stroke-width="1.2" stroke-linecap="butt"/>
<line x1="299.3" y1="254" x2="299.3" y2="251.5" stroke="#000" stroke-width="1.2" stroke-linecap="butt"/>
<line x1="299.3" y1="3.3" x2="299.3" y2="5.8" stroke="#000" stroke-width="1.2" stroke-linecap="butt"/>
<line x1="42.2" y1="254" x2="44.7" y2="254" stroke="#000" stroke-width="1.2" stroke-linecap="butt"/>
<line x1="299.4" y1="254" x2="296.9" y2="254" stroke="#000" stroke-width="1.2" stroke-linecap="butt"/>
<line x1="42.2" y1="212.16" x2="44.7" y2="212.16" stroke="#000" stroke-width="1.2" stroke-linecap="butt"/>
<line x1="299.4" y1="212.16" x2="296.9" y2="212.16" stroke="#000" stroke-width="1.2" stroke-linecap="butt"/>
<line x1="42.2" y1="170.33" x2="44.7" y2="170.33" stroke="#000" stroke-width="1.2" stroke-linecap="butt"/>
<line x1="299.4" y1="170.33" x2="296.9" y2="170.33" stroke="#000" stroke-width="1.2" stroke-linecap="butt"/>
<line x1="42.2" y1="128.5" x2="44.7" y2="128.5" stroke="#000" stroke-width="1.2" stroke-linecap="butt"/>
<line x1="299.4" y1="128.5" x2="296.9" y2="128.5" stroke="#000" stroke-width="1.2" stroke-linecap="butt"/>
<line x1="42.2" y1="86.66" x2="44.7" y2="86.66" stroke="#000" stroke-width="1.2" stroke-linecap="butt"/>
<line x1="299.4" y1="86.66" x2="296.9" y2="86.66" stroke="#000" stroke-width="1.2" stroke-linecap="butt"/>
<line x1="42.2" y1="44.82" x2="44.7" y2="44.82" stroke="#000" stroke-width="1.2" stroke-linecap="butt"/>
<line x1="299.4" y1="44.82" x2="296.9" y2="44.82" stroke="#000" stroke-width="1.2" stroke-linecap="butt"/>
<line x1="42.2" y1="2.99" x2="44.7" y2="2.99" stroke="#000" stroke-width="1.2" stroke-linecap="butt"/>
<line x1="299.4" y1="2.99" x2="296.9" y2="2.99" stroke="#000" stroke-width="1.2" stroke-linecap="butt"/>
<text x="41.3" y="266.3" font-size="11.4" text-anchor="middle" font-weight="normal" fill="#000" color="#000">30</text>
<text x="81" y="266.3" font-size="11.4" text-anchor="middle" font-weight="normal" fill="#000" color="#000">40</text>
<text x="131.8" y="266.3" font-size="11.4" text-anchor="middle" font-weight="normal" fill="#000" color="#000">50</text>
<text x="169.5" y="266.3" font-size="11.4" text-anchor="middle" font-weight="normal" fill="#000" color="#000">60</text>
<text x="211.7" y="266.3" font-size="11.4" text-anchor="middle" font-weight="normal" fill="#000" color="#000">70</text>
<text x="258.8" y="266.3" font-size="11.4" text-anchor="middle" font-weight="normal" fill="#000" color="#000">80</text>
<text x="298.7" y="266.3" font-size="11.4" text-anchor="middle" font-weight="normal" fill="#000" color="#000">90</text>
<text x="29.3" y="9.5" font-size="11.4" text-anchor="middle" font-weight="normal" fill="#000" color="#000">300</text>
<text x="29.3" y="52.6" font-size="11.4" text-anchor="middle" font-weight="normal" fill="#000" color="#000">250</text>
<text x="29.3" y="90.5" font-size="11.4" text-anchor="middle" font-weight="normal" fill="#000" color="#000">200</text>
<text x="29.3" y="132.2" font-size="11.4" text-anchor="middle" font-weight="normal" fill="#000" color="#000">150</text>
<text x="29.3" y="175.7" font-size="11.4" text-anchor="middle" font-weight="normal" fill="#000" color="#000">100</text>
<text x="29.3" y="216.7" font-size="11.4" text-anchor="middle" font-weight="normal" fill="#000" color="#000">50</text>
<text x="29.3" y="254.4" font-size="11.4" text-anchor="middle" font-weight="normal" fill="#000" color="#000">0</text>
<text x="51.4" y="21.5" font-size="16" text-anchor="start" font-weight="bold" fill="#000" color="#000">a</text>
<text x="180" y="279.8" font-size="13.2" text-anchor="middle" font-weight="normal" fill="#000" color="#000">Intensity [dB SPL]</text>
<text x="9.2" y="130.5" font-size="13.2" text-anchor="middle" font-weight="normal" fill="#000" color="#000" transform="rotate(-90 9.2 130.5)">Spike rate [Hz]</text>
<rect x="67.5" y="11.4" width="81.1" height="35.8" fill="#fff" stroke="#000" stroke-width="1.6"/>
<line x1="76.4" y1="22" x2="114.8" y2="22" stroke="#000" stroke-width="1.6" stroke-linecap="butt"/>
<circle cx="96.1" cy="22" r="3.2" fill="#000"/>
<line x1="76.4" y1="37.4" x2="114.8" y2="37.4" stroke="#000" stroke-width="1.6" stroke-linecap="butt" stroke-dasharray="6 4"/>
<rect x="93.6" y="34.9" width="5" height="5" fill="#fff" stroke="#000" stroke-width="1.45"/>
<text x="118.7" y="27.1" font-size="11.9" text-anchor="start" font-weight="normal" fill="#000" color="#000">28°C</text>
<text x="118.7" y="43.2" font-size="11.9" text-anchor="start" font-weight="normal" fill="#000" color="#000">21°C</text>
<polyline points="370.5,207.77 372.5,207.11 374.5,206.34 376.5,205.45 378.5,204.42 380.5,203.23 382.5,201.86 384.5,200.28 386.5,198.48 388.5,196.41 390.5,194.06 392.5,191.39 394.5,188.37 396.5,184.97 398.5,181.17 400.5,176.94 402.5,172.27 404.5,167.15 406.5,161.58 408.5,155.58 410.5,149.17 412.5,142.4 414.5,135.32 416.5,128 418.5,120.53 420.5,112.98 422.5,105.44 424.5,98.02 426.5,90.79 428.5,83.83 430.5,77.19 432.5,70.94 434.5,65.11 436.5,59.72 438.5,54.78 440.5,50.29 442.5,46.24 444.5,42.6 446.5,39.36 448.5,36.48 450.5,33.94 452.5,31.71 454.5,29.75 456.5,28.04 458.5,26.55 460.5,25.25 462.5,24.13 464.5,23.15 466.5,22.31 468.5,21.59 470.5,20.96 472.5,20.42 474.5,19.96 476.5,19.56 478.5,19.22 480.5,18.92 482.5,18.67 484.5,18.45 486.5,18.26 488.5,18.1 490.5,17.97 492.5,17.85 494.5,17.75 496.5,17.66 498.5,17.59 500.5,17.53 502.5,17.47 504.5,17.42 506.5,17.39 508.5,17.35 510.5,17.32 512.5,17.3 514.5,17.28 516.5,17.26 518.5,17.24 520.5,17.23 522.5,17.22 524.5,17.21 526.5,17.2 528.5,17.19 530.5,17.18 532.5,17.18 534.5,17.17 536.5,17.17 538.5,17.17 540.5,17.16 542.5,17.16 544.5,17.16 546.5,17.16 548.5,17.16 550.5,17.16 552.5,17.15 554.5,17.15 556.5,17.15 558.5,17.15 560.5,17.15 562.5,17.15 564.5,17.15 566.5,17.15 568.5,17.15 570.5,17.15 572.5,17.15 574.5,17.15 576.5,17.15 578.5,17.15 580.5,17.15 582.5,17.15 584.5,17.15 586.5,17.15 588.5,17.15 590.5,17.15 592.5,17.15 594.5,17.15" fill="none" stroke="#000" stroke-width="1.7" stroke-linejoin="round"/>
<polyline points="370.5,210.91 372.5,210.71 374.5,210.48 376.5,210.2 378.5,209.86 380.5,209.45 382.5,208.96 384.5,208.37 386.5,207.66 388.5,206.81 390.5,205.8 392.5,204.59 394.5,203.16 396.5,201.46 398.5,199.46 400.5,197.12 402.5,194.39 404.5,191.23 406.5,187.62 408.5,183.52 410.5,178.91 412.5,173.8 414.5,168.22 416.5,162.2 418.5,155.81 420.5,149.15 422.5,142.33 424.5,135.47 426.5,128.7 428.5,122.13 430.5,115.86 432.5,109.99 434.5,104.58 436.5,99.65 438.5,95.22 440.5,91.3 442.5,87.86 444.5,84.86 446.5,82.27 448.5,80.06 450.5,78.17 452.5,76.57 454.5,75.22 456.5,74.09 458.5,73.14 460.5,72.34 462.5,71.68 464.5,71.13 466.5,70.67 468.5,70.28 470.5,69.97 472.5,69.71 474.5,69.49 476.5,69.31 478.5,69.16 480.5,69.04 482.5,68.93 484.5,68.85 486.5,68.78 488.5,68.72 490.5,68.67 492.5,68.63 494.5,68.6 496.5,68.58 498.5,68.55 500.5,68.54 502.5,68.52 504.5,68.51 506.5,68.5 508.5,68.49 510.5,68.48 512.5,68.48 514.5,68.47 516.5,68.47 518.5,68.46 520.5,68.46 522.5,68.46 524.5,68.46 526.5,68.46 528.5,68.45 530.5,68.45 532.5,68.45 534.5,68.45 536.5,68.45 538.5,68.45 540.5,68.45 542.5,68.45 544.5,68.45 546.5,68.45 548.5,68.45 550.5,68.45 552.5,68.45 554.5,68.45 556.5,68.45 558.5,68.45 560.5,68.45 562.5,68.45 564.5,68.45 566.5,68.45 568.5,68.45 570.5,68.45 572.5,68.45 574.5,68.45 576.5,68.45 578.5,68.45 580.5,68.45 582.5,68.45 584.5,68.45 586.5,68.45 588.5,68.45 590.5,68.45 592.5,68.45 594.5,68.45" fill="none" stroke="#000" stroke-width="1.7" stroke-linejoin="round" stroke-dasharray="6 4"/>
<line x1="370.5" y1="205.85" x2="370.5" y2="213.85" stroke="#000" stroke-width="1.3" stroke-linecap="butt"/>
<line x1="368" y1="205.85" x2="373" y2="205.85" stroke="#000" stroke-width="1.3" stroke-linecap="butt"/>
<line x1="368" y1="213.85" x2="373" y2="213.85" stroke="#000" stroke-width="1.3" stroke-linecap="butt"/>
<rect x="368.2" y="207.55" width="4.6" height="4.6" fill="none" stroke="#000" stroke-width="1.45"/>
<line x1="402.5" y1="189.4" x2="402.5" y2="199.4" stroke="#000" stroke-width="1.3" stroke-linecap="butt"/>
<line x1="400" y1="189.4" x2="405" y2="189.4" stroke="#000" stroke-width="1.3" stroke-linecap="butt"/>
<line x1="400" y1="199.4" x2="405" y2="199.4" stroke="#000" stroke-width="1.3" stroke-linecap="butt"/>
<rect x="400.2" y="192.1" width="4.6" height="4.6" fill="none" stroke="#000" stroke-width="1.45"/>
<line x1="434.5" y1="102.62" x2="434.5" y2="106.62" stroke="#000" stroke-width="1.3" stroke-linecap="butt"/>
<line x1="432" y1="102.62" x2="437" y2="102.62" stroke="#000" stroke-width="1.3" stroke-linecap="butt"/>
<line x1="432" y1="106.62" x2="437" y2="106.62" stroke="#000" stroke-width="1.3" stroke-linecap="butt"/>
<rect x="432.2" y="102.32" width="4.6" height="4.6" fill="none" stroke="#000" stroke-width="1.45"/>
<line x1="466.5" y1="71.87" x2="466.5" y2="76.87" stroke="#000" stroke-width="1.3" stroke-linecap="butt"/>
<line x1="464" y1="71.87" x2="469" y2="71.87" stroke="#000" stroke-width="1.3" stroke-linecap="butt"/>
<line x1="464" y1="76.87" x2="469" y2="76.87" stroke="#000" stroke-width="1.3" stroke-linecap="butt"/>
<rect x="464.2" y="72.07" width="4.6" height="4.6" fill="none" stroke="#000" stroke-width="1.45"/>
<line x1="498.5" y1="61.79" x2="498.5" y2="73.79" stroke="#000" stroke-width="1.3" stroke-linecap="butt"/>
<line x1="496" y1="61.79" x2="501" y2="61.79" stroke="#000" stroke-width="1.3" stroke-linecap="butt"/>
<line x1="496" y1="73.79" x2="501" y2="73.79" stroke="#000" stroke-width="1.3" stroke-linecap="butt"/>
<rect x="496.2" y="65.49" width="4.6" height="4.6" fill="none" stroke="#000" stroke-width="1.45"/>
<line x1="530.5" y1="62.79" x2="530.5" y2="72.79" stroke="#000" stroke-width="1.3" stroke-linecap="butt"/>
<line x1="528" y1="62.79" x2="533" y2="62.79" stroke="#000" stroke-width="1.3" stroke-linecap="butt"/>
<line x1="528" y1="72.79" x2="533" y2="72.79" stroke="#000" stroke-width="1.3" stroke-linecap="butt"/>
<rect x="528.2" y="65.49" width="4.6" height="4.6" fill="none" stroke="#000" stroke-width="1.45"/>
<rect x="560.2" y="60.23" width="4.6" height="4.6" fill="none" stroke="#000" stroke-width="1.45"/>
<line x1="594.5" y1="64.46" x2="594.5" y2="75.46" stroke="#000" stroke-width="1.3" stroke-linecap="butt"/>
<line x1="592" y1="64.46" x2="597" y2="64.46" stroke="#000" stroke-width="1.3" stroke-linecap="butt"/>
<line x1="592" y1="75.46" x2="597" y2="75.46" stroke="#000" stroke-width="1.3" stroke-linecap="butt"/>
<rect x="592.2" y="67.66" width="4.6" height="4.6" fill="none" stroke="#000" stroke-width="1.45"/>
<line x1="370.5" y1="205.85" x2="370.5" y2="213.85" stroke="#000" stroke-width="1.3" stroke-linecap="butt"/>
<line x1="368" y1="205.85" x2="373" y2="205.85" stroke="#000" stroke-width="1.3" stroke-linecap="butt"/>
<line x1="368" y1="213.85" x2="373" y2="213.85" stroke="#000" stroke-width="1.3" stroke-linecap="butt"/>
<circle cx="370.5" cy="209.85" r="3.3" fill="#000"/>
<line x1="402.5" y1="169.36" x2="402.5" y2="175.36" stroke="#000" stroke-width="1.3" stroke-linecap="butt"/>
<line x1="400" y1="169.36" x2="405" y2="169.36" stroke="#000" stroke-width="1.3" stroke-linecap="butt"/>
<line x1="400" y1="175.36" x2="405" y2="175.36" stroke="#000" stroke-width="1.3" stroke-linecap="butt"/>
<circle cx="402.5" cy="172.36" r="3.3" fill="#000"/>
<line x1="434.5" y1="61.16" x2="434.5" y2="69.16" stroke="#000" stroke-width="1.3" stroke-linecap="butt"/>
<line x1="432" y1="61.16" x2="437" y2="61.16" stroke="#000" stroke-width="1.3" stroke-linecap="butt"/>
<line x1="432" y1="69.16" x2="437" y2="69.16" stroke="#000" stroke-width="1.3" stroke-linecap="butt"/>
<circle cx="434.5" cy="65.16" r="3.3" fill="#000"/>
<line x1="466.5" y1="21.54" x2="466.5" y2="28.54" stroke="#000" stroke-width="1.3" stroke-linecap="butt"/>
<line x1="464" y1="21.54" x2="469" y2="21.54" stroke="#000" stroke-width="1.3" stroke-linecap="butt"/>
<line x1="464" y1="28.54" x2="469" y2="28.54" stroke="#000" stroke-width="1.3" stroke-linecap="butt"/>
<circle cx="466.5" cy="25.04" r="3.3" fill="#000"/>
<circle cx="498.5" cy="16.23" r="3.3" fill="#000"/>
<line x1="530.5" y1="13.33" x2="530.5" y2="18.33" stroke="#000" stroke-width="1.3" stroke-linecap="butt"/>
<line x1="528" y1="13.33" x2="533" y2="13.33" stroke="#000" stroke-width="1.3" stroke-linecap="butt"/>
<line x1="528" y1="18.33" x2="533" y2="18.33" stroke="#000" stroke-width="1.3" stroke-linecap="butt"/>
<circle cx="530.5" cy="15.83" r="3.3" fill="#000"/>
<line x1="562.5" y1="11.19" x2="562.5" y2="17.19" stroke="#000" stroke-width="1.3" stroke-linecap="butt"/>
<line x1="560" y1="11.19" x2="565" y2="11.19" stroke="#000" stroke-width="1.3" stroke-linecap="butt"/>
<line x1="560" y1="17.19" x2="565" y2="17.19" stroke="#000" stroke-width="1.3" stroke-linecap="butt"/>
<circle cx="562.5" cy="14.19" r="3.3" fill="#000"/>
<line x1="594.5" y1="16.45" x2="594.5" y2="27.45" stroke="#000" stroke-width="1.3" stroke-linecap="butt"/>
<line x1="592" y1="16.45" x2="597" y2="16.45" stroke="#000" stroke-width="1.3" stroke-linecap="butt"/>
<line x1="592" y1="27.45" x2="597" y2="27.45" stroke="#000" stroke-width="1.3" stroke-linecap="butt"/>
<circle cx="594.5" cy="21.95" r="3.3" fill="#000"/>
<rect x="362.4" y="3.5" width="240.2" height="214.1" fill="none" stroke="#000" stroke-width="1.8"/>
<line x1="362.5" y1="217.6" x2="362.5" y2="215.1" stroke="#000" stroke-width="1.2" stroke-linecap="butt"/>
<line x1="362.5" y1="3.5" x2="362.5" y2="6" stroke="#000" stroke-width="1.2" stroke-linecap="butt"/>
<line x1="402.5" y1="217.6" x2="402.5" y2="215.1" stroke="#000" stroke-width="1.2" stroke-linecap="butt"/>
<line x1="402.5" y1="3.5" x2="402.5" y2="6" stroke="#000" stroke-width="1.2" stroke-linecap="butt"/>
<line x1="442.5" y1="217.6" x2="442.5" y2="215.1" stroke="#000" stroke-width="1.2" stroke-linecap="butt"/>
<line x1="442.5" y1="3.5" x2="442.5" y2="6" stroke="#000" stroke-width="1.2" stroke-linecap="butt"/>
<line x1="482.5" y1="217.6" x2="482.5" y2="215.1" stroke="#000" stroke-width="1.2" stroke-linecap="butt"/>
<line x1="482.5" y1="3.5" x2="482.5" y2="6" stroke="#000" stroke-width="1.2" stroke-linecap="butt"/>
<line x1="522.5" y1="217.6" x2="522.5" y2="215.1" stroke="#000" stroke-width="1.2" stroke-linecap="butt"/>
<line x1="522.5" y1="3.5" x2="522.5" y2="6" stroke="#000" stroke-width="1.2" stroke-linecap="butt"/>
<line x1="562.5" y1="217.6" x2="562.5" y2="215.1" stroke="#000" stroke-width="1.2" stroke-linecap="butt"/>
<line x1="562.5" y1="3.5" x2="562.5" y2="6" stroke="#000" stroke-width="1.2" stroke-linecap="butt"/>
<line x1="602.5" y1="217.6" x2="602.5" y2="215.1" stroke="#000" stroke-width="1.2" stroke-linecap="butt"/>
<line x1="602.5" y1="3.5" x2="602.5" y2="6" stroke="#000" stroke-width="1.2" stroke-linecap="butt"/>
<line x1="362.4" y1="213.8" x2="364.9" y2="213.8" stroke="#000" stroke-width="1.2" stroke-linecap="butt"/>
<line x1="602.6" y1="213.8" x2="600.1" y2="213.8" stroke="#000" stroke-width="1.2" stroke-linecap="butt"/>
<line x1="362.4" y1="180.92" x2="364.9" y2="180.92" stroke="#000" stroke-width="1.2" stroke-linecap="butt"/>
<line x1="602.6" y1="180.92" x2="600.1" y2="180.92" stroke="#000" stroke-width="1.2" stroke-linecap="butt"/>
<line x1="362.4" y1="148.03" x2="364.9" y2="148.03" stroke="#000" stroke-width="1.2" stroke-linecap="butt"/>
<line x1="602.6" y1="148.03" x2="600.1" y2="148.03" stroke="#000" stroke-width="1.2" stroke-linecap="butt"/>
<line x1="362.4" y1="115.15" x2="364.9" y2="115.15" stroke="#000" stroke-width="1.2" stroke-linecap="butt"/>
<line x1="602.6" y1="115.15" x2="600.1" y2="115.15" stroke="#000" stroke-width="1.2" stroke-linecap="butt"/>
<line x1="362.4" y1="82.26" x2="364.9" y2="82.26" stroke="#000" stroke-width="1.2" stroke-linecap="butt"/>
<line x1="602.6" y1="82.26" x2="600.1" y2="82.26" stroke="#000" stroke-width="1.2" stroke-linecap="butt"/>
<line x1="362.4" y1="49.38" x2="364.9" y2="49.38" stroke="#000" stroke-width="1.2" stroke-linecap="butt"/>
<line x1="602.6" y1="49.38" x2="600.1" y2="49.38" stroke="#000" stroke-width="1.2" stroke-linecap="butt"/>
<line x1="362.4" y1="16.49" x2="364.9" y2="16.49" stroke="#000" stroke-width="1.2" stroke-linecap="butt"/>
<line x1="602.6" y1="16.49" x2="600.1" y2="16.49" stroke="#000" stroke-width="1.2" stroke-linecap="butt"/>
<text x="364" y="233" font-size="11.4" text-anchor="middle" font-weight="normal" fill="#000" color="#000">30</text>
<text x="403" y="233" font-size="11.4" text-anchor="middle" font-weight="normal" fill="#000" color="#000">40</text>
<text x="445" y="233" font-size="11.4" text-anchor="middle" font-weight="normal" fill="#000" color="#000">50</text>
<text x="485.5" y="233" font-size="11.4" text-anchor="middle" font-weight="normal" fill="#000" color="#000">60</text>
<text x="525.7" y="233" font-size="11.4" text-anchor="middle" font-weight="normal" fill="#000" color="#000">70</text>
<text x="566" y="233" font-size="11.4" text-anchor="middle" font-weight="normal" fill="#000" color="#000">80</text>
<text x="603" y="233" font-size="11.4" text-anchor="middle" font-weight="normal" fill="#000" color="#000">90</text>
<text x="346.4" y="18.4" font-size="11.4" text-anchor="middle" font-weight="normal" fill="#000" color="#000">300</text>
<text x="346.4" y="52.7" font-size="11.4" text-anchor="middle" font-weight="normal" fill="#000" color="#000">250</text>
<text x="346.4" y="85.1" font-size="11.4" text-anchor="middle" font-weight="normal" fill="#000" color="#000">200</text>
<text x="346.4" y="118.4" font-size="11.4" text-anchor="middle" font-weight="normal" fill="#000" color="#000">150</text>
<text x="346.4" y="152.7" font-size="11.4" text-anchor="middle" font-weight="normal" fill="#000" color="#000">100</text>
<text x="346.4" y="183.3" font-size="11.4" text-anchor="middle" font-weight="normal" fill="#000" color="#000">50</text>
<text x="346.4" y="217.1" font-size="11.4" text-anchor="middle" font-weight="normal" fill="#000" color="#000">0</text>
<text x="374.3" y="22.3" font-size="16.5" text-anchor="start" font-weight="bold" fill="#000" color="#000">b</text>
<text x="491.2" y="249.6" font-size="13.2" text-anchor="middle" font-weight="normal" fill="#000" color="#000">Intensity [dB SPL]</text>
<text x="328.3" y="107" font-size="13.2" text-anchor="middle" font-weight="normal" fill="#000" color="#000" transform="rotate(-90 328.3 107)">Spike rate [Hz]</text>
<rect x="506.2" y="164.1" width="81" height="36" fill="#fff" stroke="#000" stroke-width="1.6"/>
<line x1="515.2" y1="174.5" x2="553.5" y2="174.5" stroke="#000" stroke-width="1.6" stroke-linecap="butt"/>
<circle cx="534.3" cy="174.5" r="3.2" fill="#000"/>
<line x1="515.2" y1="189.9" x2="553.5" y2="189.9" stroke="#000" stroke-width="1.6" stroke-linecap="butt" stroke-dasharray="6 4"/>
<rect x="531.8" y="187.4" width="5" height="5" fill="#fff" stroke="#000" stroke-width="1.45"/>
<text x="557.2" y="179.4" font-size="11.9" text-anchor="start" font-weight="normal" fill="#000" color="#000">28°C</text>
<text x="557.2" y="195.6" font-size="11.9" text-anchor="start" font-weight="normal" fill="#000" color="#000">21°C</text>
<polyline points="371.24,458.89 373.25,458.82 375.26,458.75 377.27,458.66 379.28,458.56 381.29,458.44 383.3,458.3 385.31,458.14 387.32,457.95 389.33,457.72 391.34,457.45 393.35,457.14 395.36,456.78 397.37,456.35 399.38,455.85 401.39,455.27 403.4,454.59 405.41,453.8 407.42,452.88 409.43,451.81 411.44,450.58 413.45,449.15 415.46,447.51 417.47,445.62 419.48,443.47 421.49,441.02 423.5,438.25 425.51,435.14 427.52,431.65 429.53,427.79 431.54,423.54 433.55,418.91 435.56,413.91 437.57,408.57 439.58,402.93 441.59,397.04 443.6,390.97 445.61,384.8 447.62,378.6 449.63,372.45 451.64,366.44 453.65,360.64 455.66,355.1 457.67,349.88 459.68,345.01 461.69,340.51 463.7,336.4 465.71,332.68 467.72,329.33 469.73,326.34 471.74,323.69 473.75,321.35 475.76,319.29 477.77,317.5 479.78,315.94 481.79,314.58 483.8,313.41 485.81,312.4 487.82,311.53 489.83,310.78 491.84,310.14 493.85,309.59 495.86,309.11 497.87,308.71 499.88,308.37 501.89,308.07 503.9,307.82 505.91,307.61 507.92,307.43 509.93,307.27 511.94,307.14 513.95,307.02 515.96,306.93 517.97,306.85 519.98,306.78 521.99,306.72 524,306.67 526.01,306.63 528.02,306.59 530.03,306.56 532.04,306.53 534.05,306.51 536.06,306.49 538.07,306.47 540.08,306.46 542.09,306.45 544.1,306.44 546.11,306.43 548.12,306.42 550.13,306.42 552.14,306.41 554.15,306.41 556.16,306.4 558.17,306.4 560.18,306.4 562.19,306.4 564.2,306.39 566.21,306.39 568.22,306.39 570.23,306.39 572.24,306.39 574.25,306.39 576.26,306.39 578.27,306.39 580.28,306.39 582.29,306.38 584.3,306.38 586.31,306.38 588.32,306.38 590.33,306.38 592.34,306.38 594.35,306.38 596.36,306.38" fill="none" stroke="#000" stroke-width="1.7" stroke-linejoin="round"/>
<polyline points="371.24,467.7 373.25,467.66 375.26,467.61 377.27,467.55 379.28,467.49 381.29,467.41 383.3,467.32 385.31,467.21 387.32,467.09 389.33,466.95 391.34,466.79 393.35,466.59 395.36,466.37 397.37,466.12 399.38,465.82 401.39,465.48 403.4,465.09 405.41,464.63 407.42,464.11 409.43,463.5 411.44,462.81 413.45,462.01 415.46,461.09 417.47,460.05 419.48,458.86 421.49,457.5 423.5,455.97 425.51,454.23 427.52,452.29 429.53,450.11 431.54,447.69 433.55,445.01 435.56,442.07 437.57,438.86 439.58,435.39 441.59,431.66 443.6,427.7 445.61,423.53 447.62,419.18 449.63,414.7 451.64,410.13 453.65,405.52 455.66,400.93 457.67,396.4 459.68,391.98 461.69,387.72 463.7,383.65 465.71,379.81 467.72,376.22 469.73,372.88 471.74,369.81 473.75,367 475.76,364.46 477.77,362.17 479.78,360.11 481.79,358.28 483.8,356.65 485.81,355.21 487.82,353.94 489.83,352.83 491.84,351.86 493.85,351 495.86,350.26 497.87,349.61 499.88,349.05 501.89,348.56 503.9,348.14 505.91,347.77 507.92,347.46 509.93,347.18 511.94,346.95 513.95,346.74 515.96,346.57 517.97,346.41 519.98,346.28 521.99,346.17 524,346.07 526.01,345.99 528.02,345.92 530.03,345.85 532.04,345.8 534.05,345.75 536.06,345.71 538.07,345.68 540.08,345.65 542.09,345.63 544.1,345.6 546.11,345.59 548.12,345.57 550.13,345.56 552.14,345.54 554.15,345.53 556.16,345.52 558.17,345.52 560.18,345.51 562.19,345.5 564.2,345.5 566.21,345.5 568.22,345.49 570.23,345.49 572.24,345.49 574.25,345.48 576.26,345.48 578.27,345.48 580.28,345.48 582.29,345.48 584.3,345.48 586.31,345.48 588.32,345.47 590.33,345.47 592.34,345.47 594.35,345.47 596.36,345.47" fill="none" stroke="#000" stroke-width="1.7" stroke-linejoin="round" stroke-dasharray="6 4"/>
<rect x="368.94" y="468" width="4.6" height="4.6" fill="none" stroke="#000" stroke-width="1.45"/>
<line x1="403.4" y1="456" x2="403.4" y2="466" stroke="#000" stroke-width="1.3" stroke-linecap="butt"/>
<line x1="400.9" y1="456" x2="405.9" y2="456" stroke="#000" stroke-width="1.3" stroke-linecap="butt"/>
<line x1="400.9" y1="466" x2="405.9" y2="466" stroke="#000" stroke-width="1.3" stroke-linecap="butt"/>
<rect x="401.1" y="459.3" width="4.6" height="4.6" fill="none" stroke="#000" stroke-width="1.45"/>
<line x1="435.56" y1="432.4" x2="435.56" y2="451" stroke="#000" stroke-width="1.3" stroke-linecap="butt"/>
<line x1="433.06" y1="432.4" x2="438.06" y2="432.4" stroke="#000" stroke-width="1.3" stroke-linecap="butt"/>
<line x1="433.06" y1="451" x2="438.06" y2="451" stroke="#000" stroke-width="1.3" stroke-linecap="butt"/>
<rect x="433.26" y="439.6" width="4.6" height="4.6" fill="none" stroke="#000" stroke-width="1.45"/>
<line x1="467.72" y1="370" x2="467.72" y2="382.8" stroke="#000" stroke-width="1.3" stroke-linecap="butt"/>
<line x1="465.22" y1="370" x2="470.22" y2="370" stroke="#000" stroke-width="1.3" stroke-linecap="butt"/>
<line x1="465.22" y1="382.8" x2="470.22" y2="382.8" stroke="#000" stroke-width="1.3" stroke-linecap="butt"/>
<rect x="465.42" y="374.1" width="4.6" height="4.6" fill="none" stroke="#000" stroke-width="1.45"/>
<rect x="497.58" y="343" width="4.6" height="4.6" fill="none" stroke="#000" stroke-width="1.45"/>
<line x1="532.04" y1="336.7" x2="532.04" y2="354" stroke="#000" stroke-width="1.3" stroke-linecap="butt"/>
<line x1="529.54" y1="336.7" x2="534.54" y2="336.7" stroke="#000" stroke-width="1.3" stroke-linecap="butt"/>
<line x1="529.54" y1="354" x2="534.54" y2="354" stroke="#000" stroke-width="1.3" stroke-linecap="butt"/>
<rect x="529.74" y="343" width="4.6" height="4.6" fill="none" stroke="#000" stroke-width="1.45"/>
<line x1="564.2" y1="338.9" x2="564.2" y2="351.4" stroke="#000" stroke-width="1.3" stroke-linecap="butt"/>
<line x1="561.7" y1="338.9" x2="566.7" y2="338.9" stroke="#000" stroke-width="1.3" stroke-linecap="butt"/>
<line x1="561.7" y1="351.4" x2="566.7" y2="351.4" stroke="#000" stroke-width="1.3" stroke-linecap="butt"/>
<rect x="561.9" y="343" width="4.6" height="4.6" fill="none" stroke="#000" stroke-width="1.45"/>
<line x1="596.36" y1="344" x2="596.36" y2="357" stroke="#000" stroke-width="1.3" stroke-linecap="butt"/>
<line x1="593.86" y1="344" x2="598.86" y2="344" stroke="#000" stroke-width="1.3" stroke-linecap="butt"/>
<line x1="593.86" y1="357" x2="598.86" y2="357" stroke="#000" stroke-width="1.3" stroke-linecap="butt"/>
<rect x="594.06" y="348.2" width="4.6" height="4.6" fill="none" stroke="#000" stroke-width="1.45"/>
<line x1="371.24" y1="421.6" x2="371.24" y2="474" stroke="#000" stroke-width="1.3" stroke-linecap="butt"/>
<line x1="368.74" y1="421.6" x2="373.74" y2="421.6" stroke="#000" stroke-width="1.3" stroke-linecap="butt"/>
<line x1="368.74" y1="474" x2="373.74" y2="474" stroke="#000" stroke-width="1.3" stroke-linecap="butt"/>
<circle cx="371.24" cy="451" r="3.3" fill="#000"/>
<line x1="403.4" y1="456" x2="403.4" y2="473.4" stroke="#000" stroke-width="1.3" stroke-linecap="butt"/>
<line x1="400.9" y1="456" x2="405.9" y2="456" stroke="#000" stroke-width="1.3" stroke-linecap="butt"/>
<line x1="400.9" y1="473.4" x2="405.9" y2="473.4" stroke="#000" stroke-width="1.3" stroke-linecap="butt"/>
<circle cx="403.4" cy="466.5" r="3.3" fill="#000"/>
<line x1="435.56" y1="395.8" x2="435.56" y2="432.4" stroke="#000" stroke-width="1.3" stroke-linecap="butt"/>
<line x1="433.06" y1="395.8" x2="438.06" y2="395.8" stroke="#000" stroke-width="1.3" stroke-linecap="butt"/>
<line x1="433.06" y1="432.4" x2="438.06" y2="432.4" stroke="#000" stroke-width="1.3" stroke-linecap="butt"/>
<circle cx="435.56" cy="413.9" r="3.3" fill="#000"/>
<line x1="467.72" y1="322.5" x2="467.72" y2="337.6" stroke="#000" stroke-width="1.3" stroke-linecap="butt"/>
<line x1="465.22" y1="322.5" x2="470.22" y2="322.5" stroke="#000" stroke-width="1.3" stroke-linecap="butt"/>
<line x1="465.22" y1="337.6" x2="470.22" y2="337.6" stroke="#000" stroke-width="1.3" stroke-linecap="butt"/>
<circle cx="467.72" cy="329.8" r="3.3" fill="#000"/>
<line x1="499.88" y1="283.7" x2="499.88" y2="306.6" stroke="#000" stroke-width="1.3" stroke-linecap="butt"/>
<line x1="497.38" y1="283.7" x2="502.38" y2="283.7" stroke="#000" stroke-width="1.3" stroke-linecap="butt"/>
<line x1="497.38" y1="306.6" x2="502.38" y2="306.6" stroke="#000" stroke-width="1.3" stroke-linecap="butt"/>
<circle cx="499.88" cy="296.6" r="3.3" fill="#000"/>
<line x1="532.04" y1="297.9" x2="532.04" y2="316" stroke="#000" stroke-width="1.3" stroke-linecap="butt"/>
<line x1="529.54" y1="297.9" x2="534.54" y2="297.9" stroke="#000" stroke-width="1.3" stroke-linecap="butt"/>
<line x1="529.54" y1="316" x2="534.54" y2="316" stroke="#000" stroke-width="1.3" stroke-linecap="butt"/>
<circle cx="532.04" cy="306.6" r="3.3" fill="#000"/>
<line x1="564.2" y1="299.7" x2="564.2" y2="313.9" stroke="#000" stroke-width="1.3" stroke-linecap="butt"/>
<line x1="561.7" y1="299.7" x2="566.7" y2="299.7" stroke="#000" stroke-width="1.3" stroke-linecap="butt"/>
<line x1="561.7" y1="313.9" x2="566.7" y2="313.9" stroke="#000" stroke-width="1.3" stroke-linecap="butt"/>
<circle cx="564.2" cy="306.6" r="3.3" fill="#000"/>
<line x1="596.36" y1="307.4" x2="596.36" y2="320.3" stroke="#000" stroke-width="1.3" stroke-linecap="butt"/>
<line x1="593.86" y1="307.4" x2="598.86" y2="307.4" stroke="#000" stroke-width="1.3" stroke-linecap="butt"/>
<line x1="593.86" y1="320.3" x2="598.86" y2="320.3" stroke="#000" stroke-width="1.3" stroke-linecap="butt"/>
<circle cx="596.36" cy="313.9" r="3.3" fill="#000"/>
<rect x="363.2" y="265.4" width="241.2" height="209.2" fill="none" stroke="#000" stroke-width="1.8"/>
<line x1="363.2" y1="474.6" x2="363.2" y2="472.1" stroke="#000" stroke-width="1.2" stroke-linecap="butt"/>
<line x1="363.2" y1="265.4" x2="363.2" y2="267.9" stroke="#000" stroke-width="1.2" stroke-linecap="butt"/>
<line x1="403.4" y1="474.6" x2="403.4" y2="472.1" stroke="#000" stroke-width="1.2" stroke-linecap="butt"/>
<line x1="403.4" y1="265.4" x2="403.4" y2="267.9" stroke="#000" stroke-width="1.2" stroke-linecap="butt"/>
<line x1="443.6" y1="474.6" x2="443.6" y2="472.1" stroke="#000" stroke-width="1.2" stroke-linecap="butt"/>
<line x1="443.6" y1="265.4" x2="443.6" y2="267.9" stroke="#000" stroke-width="1.2" stroke-linecap="butt"/>
<line x1="483.8" y1="474.6" x2="483.8" y2="472.1" stroke="#000" stroke-width="1.2" stroke-linecap="butt"/>
<line x1="483.8" y1="265.4" x2="483.8" y2="267.9" stroke="#000" stroke-width="1.2" stroke-linecap="butt"/>
<line x1="524" y1="474.6" x2="524" y2="472.1" stroke="#000" stroke-width="1.2" stroke-linecap="butt"/>
<line x1="524" y1="265.4" x2="524" y2="267.9" stroke="#000" stroke-width="1.2" stroke-linecap="butt"/>
<line x1="564.2" y1="474.6" x2="564.2" y2="472.1" stroke="#000" stroke-width="1.2" stroke-linecap="butt"/>
<line x1="564.2" y1="265.4" x2="564.2" y2="267.9" stroke="#000" stroke-width="1.2" stroke-linecap="butt"/>
<line x1="604.4" y1="474.6" x2="604.4" y2="472.1" stroke="#000" stroke-width="1.2" stroke-linecap="butt"/>
<line x1="604.4" y1="265.4" x2="604.4" y2="267.9" stroke="#000" stroke-width="1.2" stroke-linecap="butt"/>
<line x1="363.2" y1="474.6" x2="365.7" y2="474.6" stroke="#000" stroke-width="1.2" stroke-linecap="butt"/>
<line x1="604.4" y1="474.6" x2="601.9" y2="474.6" stroke="#000" stroke-width="1.2" stroke-linecap="butt"/>
<line x1="363.2" y1="439.7" x2="365.7" y2="439.7" stroke="#000" stroke-width="1.2" stroke-linecap="butt"/>
<line x1="604.4" y1="439.7" x2="601.9" y2="439.7" stroke="#000" stroke-width="1.2" stroke-linecap="butt"/>
<line x1="363.2" y1="404.8" x2="365.7" y2="404.8" stroke="#000" stroke-width="1.2" stroke-linecap="butt"/>
<line x1="604.4" y1="404.8" x2="601.9" y2="404.8" stroke="#000" stroke-width="1.2" stroke-linecap="butt"/>
<line x1="363.2" y1="369.9" x2="365.7" y2="369.9" stroke="#000" stroke-width="1.2" stroke-linecap="butt"/>
<line x1="604.4" y1="369.9" x2="601.9" y2="369.9" stroke="#000" stroke-width="1.2" stroke-linecap="butt"/>
<line x1="363.2" y1="335" x2="365.7" y2="335" stroke="#000" stroke-width="1.2" stroke-linecap="butt"/>
<line x1="604.4" y1="335" x2="601.9" y2="335" stroke="#000" stroke-width="1.2" stroke-linecap="butt"/>
<line x1="363.2" y1="300.1" x2="365.7" y2="300.1" stroke="#000" stroke-width="1.2" stroke-linecap="butt"/>
<line x1="604.4" y1="300.1" x2="601.9" y2="300.1" stroke="#000" stroke-width="1.2" stroke-linecap="butt"/>
<line x1="363.2" y1="265.2" x2="365.7" y2="265.2" stroke="#000" stroke-width="1.2" stroke-linecap="butt"/>
<line x1="604.4" y1="265.2" x2="601.9" y2="265.2" stroke="#000" stroke-width="1.2" stroke-linecap="butt"/>
<text x="406.5" y="490" font-size="11.4" text-anchor="middle" font-weight="normal" fill="#000" color="#000">40</text>
<text x="448" y="490" font-size="11.4" text-anchor="middle" font-weight="normal" fill="#000" color="#000">50</text>
<text x="487" y="490" font-size="11.4" text-anchor="middle" font-weight="normal" fill="#000" color="#000">60</text>
<text x="526.8" y="490" font-size="11.4" text-anchor="middle" font-weight="normal" fill="#000" color="#000">70</text>
<text x="568" y="490" font-size="11.4" text-anchor="middle" font-weight="normal" fill="#000" color="#000">80</text>
<text x="602.8" y="490" font-size="11.4" text-anchor="middle" font-weight="normal" fill="#000" color="#000">90</text>
<text x="348.7" y="271.8" font-size="11.4" text-anchor="middle" font-weight="normal" fill="#000" color="#000">300</text>
<text x="348.7" y="302.7" font-size="11.4" text-anchor="middle" font-weight="normal" fill="#000" color="#000">250</text>
<text x="348.7" y="339.2" font-size="11.4" text-anchor="middle" font-weight="normal" fill="#000" color="#000">200</text>
<text x="348.7" y="371.6" font-size="11.4" text-anchor="middle" font-weight="normal" fill="#000" color="#000">150</text>
<text x="348.7" y="408.5" font-size="11.4" text-anchor="middle" font-weight="normal" fill="#000" color="#000">100</text>
<text x="348.7" y="445.5" font-size="11.4" text-anchor="middle" font-weight="normal" fill="#000" color="#000">50</text>
<text x="348.7" y="481.4" font-size="11.4" text-anchor="middle" font-weight="normal" fill="#000" color="#000">0</text>
<text x="372.6" y="288.7" font-size="17.5" text-anchor="start" font-weight="bold" fill="#000" color="#000">c</text>
<text x="486.7" y="506.9" font-size="13.2" text-anchor="middle" font-weight="normal" fill="#000" color="#000">Intensity [dB SPL]</text>
<text x="329.4" y="360" font-size="13.2" text-anchor="middle" font-weight="normal" fill="#000" color="#000" transform="rotate(-90 329.4 360)">Spike rate [Hz]</text>
<rect x="514.4" y="424.8" width="82.1" height="36.1" fill="#fff" stroke="#000" stroke-width="1.6"/>
<line x1="522" y1="435.2" x2="560.4" y2="435.2" stroke="#000" stroke-width="1.6" stroke-linecap="butt"/>
<circle cx="541.5" cy="435.2" r="3.2" fill="#000"/>
<line x1="522" y1="451.1" x2="560.4" y2="451.1" stroke="#000" stroke-width="1.6" stroke-linecap="butt" stroke-dasharray="6 4"/>
<rect x="539" y="448.6" width="5" height="5" fill="#fff" stroke="#000" stroke-width="1.45"/>
<text x="564.6" y="440.3" font-size="11.9" text-anchor="start" font-weight="normal" fill="#000" color="#000">28°C</text>
<text x="564.6" y="456.7" font-size="11.9" text-anchor="start" font-weight="normal" fill="#000" color="#000">22°C</text>
<line x1="63.6" y1="331.8" x2="63.6" y2="473.5" stroke="#a0a0a0" stroke-width="1.4" stroke-linecap="butt"/>
<line x1="85.1" y1="331.8" x2="85.1" y2="473.5" stroke="#a0a0a0" stroke-width="1.4" stroke-linecap="butt"/>
<line x1="106.6" y1="331.8" x2="106.6" y2="473.5" stroke="#a0a0a0" stroke-width="1.4" stroke-linecap="butt"/>
<line x1="128.1" y1="331.8" x2="128.1" y2="473.5" stroke="#a0a0a0" stroke-width="1.4" stroke-linecap="butt"/>
<line x1="149.6" y1="331.8" x2="149.6" y2="473.5" stroke="#a0a0a0" stroke-width="1.4" stroke-linecap="butt"/>
<line x1="171.1" y1="331.8" x2="171.1" y2="473.5" stroke="#a0a0a0" stroke-width="1.4" stroke-linecap="butt"/>
<line x1="192.6" y1="331.8" x2="192.6" y2="473.5" stroke="#a0a0a0" stroke-width="1.4" stroke-linecap="butt"/>
<line x1="214.1" y1="331.8" x2="214.1" y2="473.5" stroke="#a0a0a0" stroke-width="1.4" stroke-linecap="butt"/>
<line x1="235.6" y1="331.8" x2="235.6" y2="473.5" stroke="#a0a0a0" stroke-width="1.4" stroke-linecap="butt"/>
<line x1="257.1" y1="331.8" x2="257.1" y2="473.5" stroke="#a0a0a0" stroke-width="1.4" stroke-linecap="butt"/>
<line x1="278.6" y1="331.8" x2="278.6" y2="473.5" stroke="#a0a0a0" stroke-width="1.4" stroke-linecap="butt"/>
<line x1="42.3" y1="462.6" x2="300.4" y2="462.6" stroke="#a0a0a0" stroke-width="1.4" stroke-linecap="butt"/>
<line x1="42.3" y1="451.7" x2="300.4" y2="451.7" stroke="#a0a0a0" stroke-width="1.4" stroke-linecap="butt"/>
<line x1="42.3" y1="440.8" x2="300.4" y2="440.8" stroke="#a0a0a0" stroke-width="1.4" stroke-linecap="butt"/>
<line x1="42.3" y1="429.9" x2="300.4" y2="429.9" stroke="#a0a0a0" stroke-width="1.4" stroke-linecap="butt"/>
<line x1="42.3" y1="419" x2="300.4" y2="419" stroke="#a0a0a0" stroke-width="1.4" stroke-linecap="butt"/>
<line x1="42.3" y1="408.1" x2="300.4" y2="408.1" stroke="#a0a0a0" stroke-width="1.4" stroke-linecap="butt"/>
<line x1="42.3" y1="397.2" x2="300.4" y2="397.2" stroke="#a0a0a0" stroke-width="1.4" stroke-linecap="butt"/>
<line x1="42.3" y1="386.3" x2="300.4" y2="386.3" stroke="#a0a0a0" stroke-width="1.4" stroke-linecap="butt"/>
<line x1="42.3" y1="375.4" x2="300.4" y2="375.4" stroke="#a0a0a0" stroke-width="1.4" stroke-linecap="butt"/>
<line x1="42.3" y1="364.5" x2="300.4" y2="364.5" stroke="#a0a0a0" stroke-width="1.4" stroke-linecap="butt"/>
<line x1="42.3" y1="353.6" x2="300.4" y2="353.6" stroke="#a0a0a0" stroke-width="1.4" stroke-linecap="butt"/>
<line x1="42.3" y1="342.7" x2="300.4" y2="342.7" stroke="#a0a0a0" stroke-width="1.4" stroke-linecap="butt"/>
<line x1="106.6" y1="331.8" x2="106.6" y2="473.5" stroke="#000" stroke-width="1.7" stroke-linecap="butt" stroke-dasharray="5.5 3.2"/>
<line x1="181.85" y1="331.8" x2="181.85" y2="473.5" stroke="#000" stroke-width="1.8" stroke-dasharray="5.7 4.2" stroke-dashoffset="2"/>
<polyline points="63.6,364.5 85.1,364.5 106.6,364.5 117.35,396.22 128.1,410.93 138.85,420.85 149.6,428.05 160.35,433.28 171.1,437.86 181.85,440.04 192.6,442.65 203.35,443.85 214.1,443.85 224.85,447.01 235.6,448.54 246.35,449.85 257.1,449.85 267.85,451.7 278.6,450.28" fill="none" stroke="#000" stroke-width="1.6" stroke-linejoin="round"/>
<polyline points="63.6,339.65 85.1,339.65 106.6,339.65 117.35,441.78 128.1,455.51 138.85,456.17 149.6,457.15 160.35,457.59 171.1,457.59 181.85,457.59 192.6,457.59 203.35,456.39 214.1,456.39 224.85,455.73 235.6,455.73 246.35,455.19 257.1,455.19 267.85,456.06 278.6,455.73" fill="none" stroke="#000" stroke-width="1.6" stroke-linejoin="round"/>
<line x1="117.35" y1="434.7" x2="117.35" y2="449.2" stroke="#000" stroke-width="1.3" stroke-linecap="butt"/>
<line x1="115.35" y1="434.7" x2="119.35" y2="434.7" stroke="#000" stroke-width="1.3" stroke-linecap="butt"/>
<line x1="115.35" y1="449.2" x2="119.35" y2="449.2" stroke="#000" stroke-width="1.3" stroke-linecap="butt"/>
<line x1="149.6" y1="424.05" x2="149.6" y2="432.05" stroke="#000" stroke-width="1.3" stroke-linecap="butt"/>
<line x1="147.6" y1="424.05" x2="151.6" y2="424.05" stroke="#000" stroke-width="1.3" stroke-linecap="butt"/>
<line x1="147.6" y1="432.05" x2="151.6" y2="432.05" stroke="#000" stroke-width="1.3" stroke-linecap="butt"/>
<line x1="160.35" y1="429.28" x2="160.35" y2="437.28" stroke="#000" stroke-width="1.3" stroke-linecap="butt"/>
<line x1="158.35" y1="429.28" x2="162.35" y2="429.28" stroke="#000" stroke-width="1.3" stroke-linecap="butt"/>
<line x1="158.35" y1="437.28" x2="162.35" y2="437.28" stroke="#000" stroke-width="1.3" stroke-linecap="butt"/>
<line x1="171.1" y1="433.86" x2="171.1" y2="441.86" stroke="#000" stroke-width="1.3" stroke-linecap="butt"/>
<line x1="169.1" y1="433.86" x2="173.1" y2="433.86" stroke="#000" stroke-width="1.3" stroke-linecap="butt"/>
<line x1="169.1" y1="441.86" x2="173.1" y2="441.86" stroke="#000" stroke-width="1.3" stroke-linecap="butt"/>
<line x1="203.35" y1="439.85" x2="203.35" y2="447.85" stroke="#000" stroke-width="1.3" stroke-linecap="butt"/>
<line x1="201.35" y1="439.85" x2="205.35" y2="439.85" stroke="#000" stroke-width="1.3" stroke-linecap="butt"/>
<line x1="201.35" y1="447.85" x2="205.35" y2="447.85" stroke="#000" stroke-width="1.3" stroke-linecap="butt"/>
<line x1="214.1" y1="439.85" x2="214.1" y2="447.85" stroke="#000" stroke-width="1.3" stroke-linecap="butt"/>
<line x1="212.1" y1="439.85" x2="216.1" y2="439.85" stroke="#000" stroke-width="1.3" stroke-linecap="butt"/>
<line x1="212.1" y1="447.85" x2="216.1" y2="447.85" stroke="#000" stroke-width="1.3" stroke-linecap="butt"/>
<line x1="224.85" y1="443.01" x2="224.85" y2="451.01" stroke="#000" stroke-width="1.3" stroke-linecap="butt"/>
<line x1="222.85" y1="443.01" x2="226.85" y2="443.01" stroke="#000" stroke-width="1.3" stroke-linecap="butt"/>
<line x1="222.85" y1="451.01" x2="226.85" y2="451.01" stroke="#000" stroke-width="1.3" stroke-linecap="butt"/>
<rect x="60.2" y="361.1" width="6.8" height="6.8" fill="#000"/>
<rect x="81.7" y="361.1" width="6.8" height="6.8" fill="#000"/>
<rect x="103.2" y="361.1" width="6.8" height="6.8" fill="#000"/>
<rect x="113.95" y="392.82" width="6.8" height="6.8" fill="#000"/>
<rect x="124.7" y="407.53" width="6.8" height="6.8" fill="#000"/>
<rect x="135.45" y="417.45" width="6.8" height="6.8" fill="#000"/>
<rect x="146.2" y="424.65" width="6.8" height="6.8" fill="#000"/>
<rect x="156.95" y="429.88" width="6.8" height="6.8" fill="#000"/>
<rect x="167.7" y="434.46" width="6.8" height="6.8" fill="#000"/>
<rect x="178.45" y="436.64" width="6.8" height="6.8" fill="#000"/>
<rect x="189.2" y="439.25" width="6.8" height="6.8" fill="#000"/>
<rect x="199.95" y="440.45" width="6.8" height="6.8" fill="#000"/>
<rect x="210.7" y="440.45" width="6.8" height="6.8" fill="#000"/>
<rect x="221.45" y="443.61" width="6.8" height="6.8" fill="#000"/>
<rect x="232.2" y="445.14" width="6.8" height="6.8" fill="#000"/>
<rect x="242.95" y="446.45" width="6.8" height="6.8" fill="#000"/>
<rect x="253.7" y="446.45" width="6.8" height="6.8" fill="#000"/>
<rect x="264.45" y="448.3" width="6.8" height="6.8" fill="#000"/>
<rect x="275.2" y="446.88" width="6.8" height="6.8" fill="#000"/>
<path d="M63.6,336.95 L66.3,339.65 L63.6,342.35 L60.9,339.65 Z" fill="#fff" stroke="#000" stroke-width="1.5"/>
<path d="M85.1,336.95 L87.8,339.65 L85.1,342.35 L82.4,339.65 Z" fill="#fff" stroke="#000" stroke-width="1.5"/>
<path d="M106.6,336.95 L109.3,339.65 L106.6,342.35 L103.9,339.65 Z" fill="#fff" stroke="#000" stroke-width="1.5"/>
<path d="M117.35,439.08 L120.05,441.78 L117.35,444.48 L114.65,441.78 Z" fill="#fff" stroke="#000" stroke-width="1.5"/>
<path d="M128.1,452.81 L130.8,455.51 L128.1,458.21 L125.4,455.51 Z" fill="#fff" stroke="#000" stroke-width="1.5"/>
<path d="M138.85,453.47 L141.55,456.17 L138.85,458.87 L136.15,456.17 Z" fill="#fff" stroke="#000" stroke-width="1.5"/>
<path d="M149.6,454.45 L152.3,457.15 L149.6,459.85 L146.9,457.15 Z" fill="#fff" stroke="#000" stroke-width="1.5"/>
<path d="M160.35,454.89 L163.05,457.59 L160.35,460.29 L157.65,457.59 Z" fill="#fff" stroke="#000" stroke-width="1.5"/>
<path d="M171.1,454.89 L173.8,457.59 L171.1,460.29 L168.4,457.59 Z" fill="#fff" stroke="#000" stroke-width="1.5"/>
<path d="M181.85,454.89 L184.55,457.59 L181.85,460.29 L179.15,457.59 Z" fill="#fff" stroke="#000" stroke-width="1.5"/>
<path d="M192.6,454.89 L195.3,457.59 L192.6,460.29 L189.9,457.59 Z" fill="#fff" stroke="#000" stroke-width="1.5"/>
<path d="M203.35,453.69 L206.05,456.39 L203.35,459.09 L200.65,456.39 Z" fill="#fff" stroke="#000" stroke-width="1.5"/>
<path d="M214.1,453.69 L216.8,456.39 L214.1,459.09 L211.4,456.39 Z" fill="#fff" stroke="#000" stroke-width="1.5"/>
<path d="M224.85,453.03 L227.55,455.73 L224.85,458.43 L222.15,455.73 Z" fill="#fff" stroke="#000" stroke-width="1.5"/>
<path d="M235.6,453.03 L238.3,455.73 L235.6,458.43 L232.9,455.73 Z" fill="#fff" stroke="#000" stroke-width="1.5"/>
<path d="M246.35,452.49 L249.05,455.19 L246.35,457.89 L243.65,455.19 Z" fill="#fff" stroke="#000" stroke-width="1.5"/>
<path d="M257.1,452.49 L259.8,455.19 L257.1,457.89 L254.4,455.19 Z" fill="#fff" stroke="#000" stroke-width="1.5"/>
<path d="M267.85,453.36 L270.55,456.06 L267.85,458.76 L265.15,456.06 Z" fill="#fff" stroke="#000" stroke-width="1.5"/>
<path d="M278.6,453.03 L281.3,455.73 L278.6,458.43 L275.9,455.73 Z" fill="#fff" stroke="#000" stroke-width="1.5"/>
<rect x="42.3" y="331.8" width="258.1" height="141.7" fill="none" stroke="#000" stroke-width="1.8"/>
<rect x="104.4" y="296.2" width="4.4" height="23" fill="#000"/>
<path d="M100.6,318.4 L112.6,318.4 L106.6,332.8 Z" fill="#000"/>
<rect x="180" y="296.2" width="4.4" height="23" fill="#000"/>
<path d="M176.2,318.4 L188.2,318.4 L182.2,332.8 Z" fill="#000"/>
<text x="40.6" y="311" font-size="11.7" text-anchor="start" font-weight="normal" fill="#000" color="#000">end of</text>
<text x="40.6" y="324.1" font-size="11.7" text-anchor="start" font-weight="normal" fill="#000" color="#000">recording 1</text>
<text x="127" y="313.9" font-size="11.5" text-anchor="start" font-weight="normal" fill="#000" color="#000">temp.</text>
<text x="127.9" y="325.6" font-size="11.5" text-anchor="start" font-weight="normal" fill="#000" color="#000">change</text>
<text x="193.9" y="312.1" font-size="11.7" text-anchor="start" font-weight="normal" fill="#000" color="#000">average</text>
<text x="193.9" y="324.4" font-size="11.85" text-anchor="start" font-weight="normal" fill="#000" color="#000">start of recording 2</text>
<text x="17" y="321.9" font-size="16.5" text-anchor="start" font-weight="bold" fill="#000" color="#000">d</text>
<rect x="255.2" y="340.8" width="37.3" height="29.5" fill="#fff" stroke="#000" stroke-width="1.5"/>
<line x1="258.9" y1="349.7" x2="275.5" y2="349.7" stroke="#000" stroke-width="1.5" stroke-linecap="butt"/>
<path d="M267.1,346.6 L270.2,349.7 L267.1,352.8 L264,349.7 Z" fill="#fff" stroke="#000" stroke-width="1.4"/>
<line x1="258.9" y1="364.4" x2="275.5" y2="364.4" stroke="#000" stroke-width="1.5" stroke-linecap="butt"/>
<rect x="264.1" y="361.6" width="5.6" height="5.6" fill="#000"/>
<text x="279.2" y="352.1" font-size="10.2" text-anchor="start" font-weight="normal" fill="#000" color="#000">T1</text>
<text x="279.2" y="366.9" font-size="10.2" text-anchor="start" font-weight="normal" fill="#000" color="#000">T2</text>
<text x="38.7" y="487.9" font-size="10.2" text-anchor="middle" font-weight="normal" fill="#000" color="#000">-3</text>
<text x="64.6" y="487.9" font-size="10.2" text-anchor="middle" font-weight="normal" fill="#000" color="#000">-2</text>
<text x="86.1" y="487.9" font-size="10.2" text-anchor="middle" font-weight="normal" fill="#000" color="#000">-1</text>
<text x="107.6" y="487.9" font-size="10.2" text-anchor="middle" font-weight="normal" fill="#000" color="#000">0</text>
<text x="129.1" y="487.9" font-size="10.2" text-anchor="middle" font-weight="normal" fill="#000" color="#000">1</text>
<text x="150.6" y="487.9" font-size="10.2" text-anchor="middle" font-weight="normal" fill="#000" color="#000">2</text>
<text x="172.1" y="487.9" font-size="10.2" text-anchor="middle" font-weight="normal" fill="#000" color="#000">3</text>
<text x="193.6" y="487.9" font-size="10.2" text-anchor="middle" font-weight="normal" fill="#000" color="#000">4</text>
<text x="215.1" y="487.9" font-size="10.2" text-anchor="middle" font-weight="normal" fill="#000" color="#000">5</text>
<text x="236.1" y="487.9" font-size="10.2" text-anchor="middle" font-weight="normal" fill="#000" color="#000">6</text>
<text x="257.6" y="487.9" font-size="10.2" text-anchor="middle" font-weight="normal" fill="#000" color="#000">7</text>
<text x="279.1" y="487.9" font-size="10.2" text-anchor="middle" font-weight="normal" fill="#000" color="#000">8</text>
<text x="300.6" y="487.9" font-size="10.2" text-anchor="middle" font-weight="normal" fill="#000" color="#000">9</text>
<text x="33" y="476.7" font-size="10.6" text-anchor="middle" font-weight="normal" fill="#000" color="#000">18</text>
<text x="33" y="455.3" font-size="10.6" text-anchor="middle" font-weight="normal" fill="#000" color="#000">20</text>
<text x="33" y="434.4" font-size="10.6" text-anchor="middle" font-weight="normal" fill="#000" color="#000">22</text>
<text x="33" y="412.9" font-size="10.6" text-anchor="middle" font-weight="normal" fill="#000" color="#000">24</text>
<text x="33" y="391" font-size="10.6" text-anchor="middle" font-weight="normal" fill="#000" color="#000">26</text>
<text x="33" y="367.7" font-size="10.6" text-anchor="middle" font-weight="normal" fill="#000" color="#000">28</text>
<text x="33" y="348.7" font-size="10.6" text-anchor="middle" font-weight="normal" fill="#000" color="#000">30</text>
<text x="167.8" y="502.4" font-size="11.4" text-anchor="middle" font-weight="normal" fill="#000" color="#000">Time [min]</text>
<text x="15.1" y="396.5" font-size="12" text-anchor="middle" font-weight="normal" fill="#000" color="#000" transform="rotate(-90 15.1 396.5)">Temperature [°C]</text>
</svg>
</body></html>
